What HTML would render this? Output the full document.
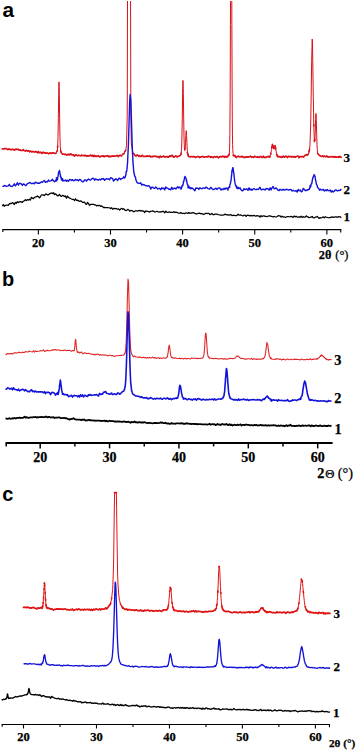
<!DOCTYPE html>
<html><head><meta charset="utf-8"><style>
html,body{margin:0;padding:0;background:#fff;}
body{width:358px;height:751px;overflow:hidden;}
svg{display:block;}
.tb{font-family:"Liberation Serif",serif;font-weight:bold;fill:#000;stroke:#000;stroke-width:0.25px;}
.tr{font-weight:normal;}
.ps{font-family:"Liberation Sans",sans-serif;font-weight:bold;fill:#000;}
</style></head><body>
<svg width="358" height="751" viewBox="0 0 358 751">
<defs>
<clipPath id="clipA"><rect x="0" y="0.9" width="358" height="240"/></clipPath>
<clipPath id="clipC"><rect x="0" y="492" width="358" height="240"/></clipPath>
</defs>
<polyline points="2.30,148.74 3.10,148.91 3.90,148.70 4.70,148.48 5.51,148.73 6.31,148.55 7.11,149.09 7.91,149.74 8.71,148.99 9.51,149.01 10.31,149.59 11.12,149.61 11.92,149.57 12.72,149.18 13.52,149.67 14.32,150.07 15.12,149.23 15.92,149.71 16.73,149.14 17.53,149.50 18.33,149.33 19.13,150.13 19.93,149.75 20.73,150.53 21.53,150.56 22.33,150.48 23.14,149.52 23.94,150.49 24.74,150.80 25.54,150.95 26.34,150.29 27.14,150.85 27.94,150.71 28.75,150.87 29.55,151.79 30.35,151.03 31.15,151.46 31.95,151.96 32.75,151.38 33.55,151.68 34.36,151.86 35.16,151.92 35.96,151.42 36.76,152.09 37.56,152.75 38.36,151.52 39.16,152.69 39.97,152.43 40.77,152.17 41.57,153.44 42.37,152.96 43.17,152.15 43.97,152.80 44.77,153.10 45.58,152.82 46.38,153.28 47.18,153.01 47.98,153.40 48.78,153.81 49.58,152.91 50.38,153.35 51.18,153.10 51.99,153.39 52.79,152.81 53.59,153.07 54.39,153.18 55.19,153.53 55.99,153.33 56.79,151.48 57.04,151.26 57.37,150.56 57.60,147.14 57.69,146.30 58.02,136.72 58.34,118.60 58.40,114.33 58.67,94.27 58.99,81.93 59.20,87.49 59.31,95.15 59.64,117.96 59.96,136.80 60.00,138.62 60.29,146.70 60.61,150.53 60.80,151.11 60.94,152.07 61.60,152.92 62.40,154.19 63.21,154.25 64.01,154.14 64.81,154.59 65.61,154.25 66.41,154.98 67.21,154.59 68.01,154.94 68.82,154.17 69.62,154.98 70.42,154.14 71.22,154.04 72.02,154.88 72.82,154.67 73.62,155.21 74.42,156.20 75.23,154.87 76.03,155.01 76.83,155.43 77.63,155.60 78.43,155.34 79.23,155.37 80.03,155.82 80.84,155.78 81.64,155.11 82.44,155.58 83.24,155.67 84.04,155.22 84.84,155.84 85.64,155.38 86.45,156.24 87.25,155.92 88.05,155.91 88.85,155.64 89.65,155.89 90.45,155.08 91.25,155.50 92.06,156.21 92.86,155.12 93.66,156.48 94.46,155.34 95.26,156.49 96.06,155.79 96.86,156.54 97.67,156.27 98.47,155.54 99.27,156.80 100.07,156.90 100.87,156.23 101.67,156.15 102.47,156.20 103.28,155.84 104.08,156.78 104.88,156.04 105.68,156.27 106.48,155.93 107.28,156.01 108.08,155.71 108.88,156.85 109.69,156.21 110.49,156.71 111.29,156.27 112.09,155.94 112.89,156.09 113.69,155.97 114.49,156.20 115.30,155.99 116.10,155.99 116.90,155.45 117.70,155.64 118.50,156.67 119.30,155.51 120.10,155.20 120.91,155.64 121.71,155.88 122.51,154.24 123.31,154.29 124.11,153.32 124.91,151.53 125.71,150.37 126.52,145.25 127.19,116.61 127.32,88.87 127.50,-3.23 127.52,-25.27 127.77,-430.68 127.80,-511.36 128.02,-1459.16 128.11,-2012.97 128.12,-2084.94 128.27,-3445.98 128.41,-4962.21 128.52,-6272.22 128.72,-8468.18 128.77,-8982.14 128.92,-9927.24 129.02,-10139.40 129.27,-8982.41 129.33,-8467.42 129.52,-6271.71 129.63,-4962.02 129.72,-3989.31 129.77,-3446.72 129.94,-2013.14 130.02,-1458.16 130.24,-510.91 130.27,-430.35 130.52,-25.41 130.52,-24.62 130.55,-2.99 130.85,116.41 131.32,143.50 132.13,148.64 132.93,152.31 133.73,153.62 134.53,154.68 135.33,155.71 136.13,155.93 136.93,155.03 137.73,155.00 138.54,156.28 139.34,155.59 140.14,156.14 140.94,156.61 141.74,155.56 142.54,155.40 143.34,156.52 144.15,156.46 144.95,156.37 145.75,156.53 146.55,156.15 147.35,155.88 148.15,156.51 148.95,156.16 149.76,155.88 150.56,156.86 151.36,156.62 152.16,156.84 152.96,156.22 153.76,156.38 154.56,156.23 155.37,156.29 156.17,156.79 156.97,156.35 157.77,156.87 158.57,156.87 159.37,157.63 160.17,156.10 160.98,157.13 161.78,156.69 162.58,156.73 163.38,156.09 164.18,156.53 164.98,157.08 165.78,156.71 166.58,156.78 167.39,156.61 168.19,157.26 168.99,156.73 169.79,155.74 170.59,156.41 171.39,155.83 172.19,155.24 173.00,156.45 173.80,157.27 174.60,156.66 175.40,156.07 176.20,156.12 177.00,156.98 177.80,156.43 178.61,156.20 179.41,155.85 180.21,155.31 180.81,154.70 181.01,153.94 181.17,152.96 181.53,148.33 181.81,141.75 181.89,138.15 182.25,119.12 182.61,93.03 182.97,80.45 183.33,93.45 183.41,98.14 183.69,119.07 184.06,138.54 184.22,143.16 184.42,148.07 184.78,150.60 185.02,148.43 185.14,148.62 185.50,142.61 185.82,135.67 185.86,134.33 186.22,130.68 186.58,135.20 186.62,136.69 186.94,143.80 187.30,150.27 187.42,152.45 187.66,153.51 188.02,154.99 188.22,154.70 188.38,156.41 189.02,156.54 189.83,156.76 190.63,156.80 191.43,156.64 192.23,156.75 193.03,156.58 193.83,156.64 194.63,156.78 195.43,157.46 196.24,157.05 197.04,156.79 197.84,156.57 198.64,156.55 199.44,157.57 200.24,157.08 201.04,156.89 201.85,156.71 202.65,156.38 203.45,156.85 204.25,157.28 205.05,156.71 205.85,156.79 206.65,156.80 207.46,156.95 208.26,156.18 209.06,156.80 209.86,156.52 210.66,157.31 211.46,156.56 212.26,157.17 213.07,157.60 213.87,156.77 214.67,156.64 215.47,156.99 216.27,156.90 217.07,156.45 217.87,157.10 218.68,157.79 219.48,156.76 220.28,156.78 221.08,156.38 221.88,156.98 222.68,156.25 223.48,156.28 224.28,157.30 225.09,156.25 225.89,157.05 226.69,157.10 226.83,156.50 227.49,156.43 227.55,157.04 228.27,155.70 228.29,155.51 228.99,154.40 229.09,154.75 229.21,154.94 229.53,150.83 229.71,143.78 229.85,134.54 229.89,131.16 230.18,89.93 230.43,24.61 230.50,2.10 230.70,-61.17 230.83,-101.12 231.15,-149.02 231.48,-100.89 231.50,-95.48 231.80,2.23 231.87,25.55 232.13,90.07 232.30,118.76 232.45,134.17 232.60,144.39 232.78,149.53 233.10,153.65 233.32,155.40 233.90,156.02 234.04,155.73 234.70,155.38 234.76,156.01 235.48,156.10 235.50,156.69 236.31,157.58 237.11,156.77 237.91,156.39 238.71,156.27 239.51,156.81 240.31,156.78 241.11,156.37 241.92,156.96 242.72,156.40 243.52,157.43 244.32,157.42 245.12,157.44 245.92,156.74 246.72,157.20 247.53,156.91 248.33,156.80 249.13,156.83 249.93,156.40 250.73,156.34 251.53,157.35 252.33,156.90 253.13,157.09 253.94,157.44 254.74,156.22 255.54,156.64 256.34,157.08 257.14,157.17 257.94,156.83 258.74,157.46 259.55,157.09 260.35,156.45 261.15,156.57 261.95,157.35 262.75,157.19 263.55,156.12 264.35,157.57 265.16,157.22 265.96,157.54 266.76,156.74 267.56,156.74 268.36,156.31 269.16,157.85 269.70,156.42 269.96,156.99 270.24,155.56 270.77,154.32 270.79,153.40 271.33,150.70 271.57,149.48 271.83,146.50 271.87,147.29 272.37,144.80 272.37,144.18 272.41,144.39 272.91,145.66 272.95,146.02 273.17,146.89 273.45,147.99 273.49,148.34 273.97,148.44 273.99,148.28 274.03,148.78 274.54,147.54 274.57,146.32 274.77,146.38 275.08,145.76 275.11,145.65 275.57,148.15 275.62,147.79 275.65,148.92 276.16,151.25 276.38,153.09 276.70,154.38 277.18,155.52 277.24,156.24 277.78,156.47 277.98,156.91 278.32,156.71 278.78,156.31 279.58,156.82 280.38,156.93 281.18,157.36 281.98,156.54 282.79,156.94 283.59,156.19 284.39,157.27 285.19,156.49 285.99,156.17 286.79,156.95 287.59,157.48 288.40,156.29 289.20,156.48 290.00,156.63 290.80,156.45 291.60,157.13 292.40,156.58 293.20,156.61 294.01,157.19 294.81,156.57 295.61,157.09 296.41,156.44 297.21,156.31 298.01,156.00 298.81,157.63 299.62,156.61 300.42,156.81 301.22,156.63 302.02,156.64 302.82,156.50 303.62,157.22 304.42,155.73 305.23,155.28 306.03,155.23 306.83,154.65 307.63,154.92 308.43,153.86 308.98,151.76 309.23,150.60 309.52,149.45 310.03,144.27 310.06,141.95 310.60,128.01 310.83,116.22 311.14,98.85 311.64,62.80 311.68,60.21 312.22,39.04 312.44,42.94 312.76,60.72 313.24,93.89 313.30,97.65 313.81,124.84 313.84,125.83 314.04,133.19 314.17,136.64 314.38,140.33 314.53,141.53 314.84,140.04 314.89,139.90 314.93,139.37 315.25,132.13 315.47,125.18 315.61,119.54 315.64,118.30 315.97,113.51 316.33,120.70 316.44,124.76 316.69,134.54 317.05,144.87 317.25,149.22 317.41,151.01 317.77,153.53 318.05,154.13 318.14,154.06 318.85,154.81 319.65,155.64 320.45,155.81 321.25,156.38 322.05,156.43 322.86,155.94 323.66,156.68 324.46,156.11 325.26,156.50 326.06,156.69 326.86,155.93 327.66,156.94 328.47,156.99 329.27,156.88 330.07,156.78 330.87,156.82 331.67,156.57 332.47,156.90 333.27,156.79 334.08,157.09 334.88,156.52 335.68,157.18 336.48,157.14 337.28,157.02 338.08,156.90 338.88,157.35 339.68,156.36 340.49,157.32 341.29,157.23" fill="none" stroke="#d81018" stroke-width="1.0" stroke-linejoin="round" clip-path="url(#clipA)"/>
<path d="M2.30,148.74 L3.10,148.91 L3.90,148.70 L4.70,148.48 L5.51,148.73 L6.31,148.55 L7.11,149.09 L7.91,149.74 L8.71,148.99 L9.51,149.01 L10.31,149.59 L11.12,149.61 L11.92,149.57 L12.72,149.18 L13.52,149.67 L14.32,150.07 L15.12,149.23 L15.92,149.71 L16.73,149.14 L17.53,149.50 L18.33,149.33 L19.13,150.13 L19.93,149.75 L20.73,150.53 L21.53,150.56 L22.33,150.48 L23.14,149.52 L23.94,150.49 L24.74,150.80 L25.54,150.95 L26.34,150.29 L27.14,150.85 L27.94,150.71 L28.75,150.87 L29.55,151.79 L30.35,151.03 L31.15,151.46 L31.95,151.96 L32.75,151.38 L33.55,151.68 L34.36,151.86 L35.16,151.92 L35.96,151.42 L36.76,152.09 L37.56,152.75 M38.36,151.52 L39.16,152.69 L39.97,152.43 L40.77,152.17 M41.57,153.44 L42.37,152.96 L43.17,152.15 L43.97,152.80 L44.77,153.10 L45.58,152.82 L46.38,153.28 L47.18,153.01 L47.98,153.40 L48.78,153.81 L49.58,152.91 L50.38,153.35 L51.18,153.10 L51.99,153.39 L52.79,152.81 L53.59,153.07 L54.39,153.18 L55.19,153.53 L55.99,153.33 M56.79,151.48 L57.04,151.26 L57.37,150.56 M57.60,147.14 L57.69,146.30 M60.61,150.53 L60.80,151.11 L60.94,152.07 L61.60,152.92 M62.40,154.19 L63.21,154.25 L64.01,154.14 L64.81,154.59 L65.61,154.25 L66.41,154.98 L67.21,154.59 L68.01,154.94 L68.82,154.17 L69.62,154.98 L70.42,154.14 L71.22,154.04 L72.02,154.88 L72.82,154.67 L73.62,155.21 L74.42,156.20 M75.23,154.87 L76.03,155.01 L76.83,155.43 L77.63,155.60 L78.43,155.34 L79.23,155.37 L80.03,155.82 L80.84,155.78 L81.64,155.11 L82.44,155.58 L83.24,155.67 L84.04,155.22 L84.84,155.84 L85.64,155.38 L86.45,156.24 L87.25,155.92 L88.05,155.91 L88.85,155.64 L89.65,155.89 L90.45,155.08 L91.25,155.50 L92.06,156.21 L92.86,155.12 M93.66,156.48 L94.46,155.34 L95.26,156.49 L96.06,155.79 L96.86,156.54 L97.67,156.27 L98.47,155.54 M99.27,156.80 L100.07,156.90 L100.87,156.23 L101.67,156.15 L102.47,156.20 L103.28,155.84 L104.08,156.78 L104.88,156.04 L105.68,156.27 L106.48,155.93 L107.28,156.01 L108.08,155.71 L108.88,156.85 L109.69,156.21 L110.49,156.71 L111.29,156.27 L112.09,155.94 L112.89,156.09 L113.69,155.97 L114.49,156.20 L115.30,155.99 L116.10,155.99 L116.90,155.45 L117.70,155.64 L118.50,156.67 L119.30,155.51 L120.10,155.20 L120.91,155.64 L121.71,155.88 M122.51,154.24 L123.31,154.29 L124.11,153.32 M124.91,151.53 L125.71,150.37 M130.52,-25.41 L130.52,-24.62 M133.73,153.62 L134.53,154.68 L135.33,155.71 L136.13,155.93 L136.93,155.03 L137.73,155.00 M138.54,156.28 L139.34,155.59 L140.14,156.14 L140.94,156.61 L141.74,155.56 L142.54,155.40 L143.34,156.52 L144.15,156.46 L144.95,156.37 L145.75,156.53 L146.55,156.15 L147.35,155.88 L148.15,156.51 L148.95,156.16 L149.76,155.88 L150.56,156.86 L151.36,156.62 L152.16,156.84 L152.96,156.22 L153.76,156.38 L154.56,156.23 L155.37,156.29 L156.17,156.79 L156.97,156.35 L157.77,156.87 L158.57,156.87 L159.37,157.63 M160.17,156.10 L160.98,157.13 L161.78,156.69 L162.58,156.73 L163.38,156.09 L164.18,156.53 L164.98,157.08 L165.78,156.71 L166.58,156.78 L167.39,156.61 L168.19,157.26 L168.99,156.73 L169.79,155.74 L170.59,156.41 L171.39,155.83 L172.19,155.24 L173.00,156.45 L173.80,157.27 L174.60,156.66 L175.40,156.07 L176.20,156.12 L177.00,156.98 L177.80,156.43 L178.61,156.20 L179.41,155.85 L180.21,155.31 L180.81,154.70 L181.01,153.94 L181.17,152.96 M185.02,148.43 L185.14,148.62 M187.42,152.45 L187.66,153.51 M188.02,154.99 L188.22,154.70 M188.38,156.41 L189.02,156.54 L189.83,156.76 L190.63,156.80 L191.43,156.64 L192.23,156.75 L193.03,156.58 L193.83,156.64 L194.63,156.78 L195.43,157.46 L196.24,157.05 L197.04,156.79 L197.84,156.57 L198.64,156.55 L199.44,157.57 L200.24,157.08 L201.04,156.89 L201.85,156.71 L202.65,156.38 L203.45,156.85 L204.25,157.28 L205.05,156.71 L205.85,156.79 L206.65,156.80 L207.46,156.95 L208.26,156.18 L209.06,156.80 L209.86,156.52 L210.66,157.31 L211.46,156.56 L212.26,157.17 L213.07,157.60 L213.87,156.77 L214.67,156.64 L215.47,156.99 L216.27,156.90 L217.07,156.45 L217.87,157.10 L218.68,157.79 L219.48,156.76 L220.28,156.78 L221.08,156.38 L221.88,156.98 L222.68,156.25 L223.48,156.28 L224.28,157.30 L225.09,156.25 L225.89,157.05 L226.69,157.10 L226.83,156.50 L227.49,156.43 L227.55,157.04 M228.27,155.70 L228.29,155.51 L228.99,154.40 L229.09,154.75 L229.21,154.94 M233.32,155.40 L233.90,156.02 L234.04,155.73 L234.70,155.38 L234.76,156.01 L235.48,156.10 L235.50,156.69 L236.31,157.58 L237.11,156.77 L237.91,156.39 L238.71,156.27 L239.51,156.81 L240.31,156.78 L241.11,156.37 L241.92,156.96 L242.72,156.40 L243.52,157.43 L244.32,157.42 L245.12,157.44 L245.92,156.74 L246.72,157.20 L247.53,156.91 L248.33,156.80 L249.13,156.83 L249.93,156.40 L250.73,156.34 L251.53,157.35 L252.33,156.90 L253.13,157.09 L253.94,157.44 M254.74,156.22 L255.54,156.64 L256.34,157.08 L257.14,157.17 L257.94,156.83 L258.74,157.46 L259.55,157.09 L260.35,156.45 L261.15,156.57 L261.95,157.35 L262.75,157.19 L263.55,156.12 M264.35,157.57 L265.16,157.22 L265.96,157.54 L266.76,156.74 L267.56,156.74 L268.36,156.31 M269.70,156.42 L269.96,156.99 M270.77,154.32 L270.79,153.40 M271.83,146.50 L271.87,147.29 M272.37,144.80 L272.37,144.18 L272.41,144.39 M272.91,145.66 L272.95,146.02 L273.17,146.89 L273.45,147.99 L273.49,148.34 L273.97,148.44 L273.99,148.28 L274.03,148.78 M274.57,146.32 L274.77,146.38 L275.08,145.76 L275.11,145.65 M275.57,148.15 L275.62,147.79 L275.65,148.92 M276.70,154.38 L277.18,155.52 L277.24,156.24 L277.78,156.47 L277.98,156.91 L278.32,156.71 L278.78,156.31 L279.58,156.82 L280.38,156.93 L281.18,157.36 L281.98,156.54 L282.79,156.94 L283.59,156.19 L284.39,157.27 L285.19,156.49 L285.99,156.17 L286.79,156.95 L287.59,157.48 L288.40,156.29 L289.20,156.48 L290.00,156.63 L290.80,156.45 L291.60,157.13 L292.40,156.58 L293.20,156.61 L294.01,157.19 L294.81,156.57 L295.61,157.09 L296.41,156.44 L297.21,156.31 L298.01,156.00 M298.81,157.63 L299.62,156.61 L300.42,156.81 L301.22,156.63 L302.02,156.64 L302.82,156.50 L303.62,157.22 M304.42,155.73 L305.23,155.28 L306.03,155.23 L306.83,154.65 L307.63,154.92 L308.43,153.86 M308.98,151.76 L309.23,150.60 L309.52,149.45 M313.81,124.84 L313.84,125.83 M314.38,140.33 L314.53,141.53 M314.84,140.04 L314.89,139.90 L314.93,139.37 M317.77,153.53 L318.05,154.13 L318.14,154.06 L318.85,154.81 L319.65,155.64 L320.45,155.81 L321.25,156.38 L322.05,156.43 L322.86,155.94 L323.66,156.68 L324.46,156.11 L325.26,156.50 L326.06,156.69 L326.86,155.93 L327.66,156.94 L328.47,156.99 L329.27,156.88 L330.07,156.78 L330.87,156.82 L331.67,156.57 L332.47,156.90 L333.27,156.79 L334.08,157.09 L334.88,156.52 L335.68,157.18 L336.48,157.14 L337.28,157.02 L338.08,156.90 L338.88,157.35 L339.68,156.36 L340.49,157.32 L341.29,157.23" fill="none" stroke="#d81018" stroke-width="1.6" stroke-linejoin="round" stroke-linecap="round" clip-path="url(#clipA)"/>
<polyline points="2.30,186.36 3.30,186.40 4.31,185.46 5.31,185.74 6.31,186.43 7.31,186.18 8.32,185.91 9.32,184.37 10.32,186.02 11.33,186.46 12.33,186.23 13.33,185.47 14.34,183.85 15.34,185.88 16.34,184.85 17.34,182.72 18.35,185.08 19.35,183.38 20.35,183.44 21.36,183.89 22.36,185.40 23.36,183.88 24.36,184.31 25.37,185.45 26.37,185.20 27.37,183.64 28.38,183.41 29.38,182.43 30.38,182.80 31.38,183.64 32.39,183.50 33.39,183.15 34.39,183.79 35.40,182.18 36.40,182.68 37.40,183.24 38.41,183.01 39.41,183.32 40.41,182.64 41.41,181.94 42.42,182.41 43.42,181.16 44.42,180.52 45.43,182.31 46.43,181.68 47.43,181.90 48.43,180.10 49.44,181.15 50.44,180.86 51.44,180.54 52.45,179.27 53.45,180.79 54.45,181.70 55.45,181.05 55.67,180.12 56.09,180.43 56.25,180.96 56.46,177.81 56.66,179.83 56.83,180.18 57.24,179.52 57.40,179.94 57.46,179.27 57.82,177.18 57.98,176.37 58.40,174.42 58.46,172.87 58.56,172.72 58.97,171.51 59.13,172.00 59.47,170.36 59.55,170.68 59.71,171.53 60.13,174.78 60.29,174.55 60.47,176.82 60.70,175.90 60.87,177.23 61.28,178.51 61.44,179.69 61.47,179.96 61.86,178.33 62.02,178.97 62.43,180.28 62.48,179.44 62.60,178.74 63.01,181.02 63.48,180.63 64.48,180.73 65.48,179.96 66.49,181.25 67.49,180.17 68.49,181.30 69.50,179.57 70.50,179.59 71.50,180.46 72.50,179.66 73.51,180.80 74.51,180.41 75.51,179.37 76.52,180.18 77.52,179.79 78.52,180.84 79.52,179.49 80.53,179.62 81.53,181.00 82.53,181.84 83.54,181.61 84.54,179.94 85.54,180.05 86.55,181.14 87.55,179.71 88.55,178.96 89.55,179.87 90.56,180.13 91.56,179.02 92.56,178.30 93.57,178.46 94.57,180.22 95.57,178.99 96.57,179.49 97.58,179.76 98.58,180.08 99.58,179.24 100.59,179.92 101.59,178.71 102.59,179.13 103.60,178.54 104.60,180.34 105.60,179.32 106.60,178.67 107.61,178.96 108.61,179.03 109.61,179.77 110.62,177.76 111.62,178.19 112.62,178.71 113.62,181.14 114.63,179.76 115.63,178.80 116.63,179.45 117.64,180.53 118.64,178.50 119.64,178.27 120.64,179.44 121.65,178.58 122.65,178.36 123.65,176.80 124.66,177.96 125.35,176.82 125.66,175.26 125.95,174.66 126.14,171.78 126.66,171.65 126.74,170.50 126.93,169.68 127.53,163.29 127.67,160.42 127.73,158.30 128.33,146.79 128.52,140.41 128.67,136.15 129.12,120.38 129.31,113.85 129.67,100.68 129.91,97.97 130.11,94.48 130.67,98.39 130.71,99.83 130.90,102.88 131.50,121.22 131.68,128.22 131.69,128.55 132.29,147.68 132.49,152.99 132.68,155.49 133.09,164.47 133.28,165.46 133.68,170.99 133.88,172.17 134.07,173.26 134.67,176.01 134.69,175.84 134.87,176.49 135.47,177.02 135.69,179.02 136.69,181.98 137.69,183.08 138.70,183.29 139.70,183.40 140.70,182.80 141.71,185.12 142.71,184.32 143.71,184.78 144.71,185.02 145.72,185.73 146.72,185.64 147.72,186.26 148.73,185.69 149.73,186.55 150.73,189.04 151.74,187.25 152.74,187.29 153.74,188.12 154.74,188.42 155.75,187.01 156.75,187.90 157.75,188.95 158.76,188.48 159.76,188.42 160.76,189.69 161.76,187.85 162.77,188.54 163.77,188.07 164.77,189.81 165.78,186.92 166.78,188.03 167.78,188.18 168.78,189.21 169.79,189.17 170.79,189.84 171.79,187.32 172.80,189.28 173.80,188.38 174.80,188.05 175.81,189.05 176.81,187.77 177.81,186.73 178.81,188.09 179.82,186.99 180.23,187.62 180.82,188.31 180.99,188.18 181.03,189.25 181.78,187.17 181.82,185.99 181.82,186.65 182.57,185.22 182.61,184.87 182.83,185.69 183.37,182.80 183.41,181.49 183.83,181.75 184.16,179.37 184.20,179.56 184.83,176.75 184.95,176.93 184.99,176.35 185.75,178.19 185.79,177.65 185.83,177.80 186.54,181.14 186.58,179.76 186.84,182.12 187.33,184.13 187.37,184.67 187.84,184.76 188.13,187.93 188.17,186.71 188.84,186.50 188.92,186.15 188.96,187.40 189.71,187.99 189.75,187.47 189.85,188.19 190.51,187.75 190.85,188.83 191.85,187.88 192.86,188.55 193.86,189.48 194.86,190.87 195.86,187.87 196.87,188.35 197.87,188.06 198.87,189.45 199.88,187.83 200.88,188.40 201.88,188.80 202.88,188.00 203.89,188.03 204.89,188.44 205.89,187.07 206.90,187.63 207.90,188.51 208.90,188.99 209.90,188.71 210.91,187.36 211.91,188.48 212.91,189.55 213.92,189.34 214.92,188.80 215.92,188.11 216.93,189.40 217.93,188.36 218.93,187.85 219.93,188.14 220.94,190.04 221.94,188.96 222.94,189.72 223.95,188.28 224.95,189.41 225.95,187.98 226.95,188.19 227.96,190.14 228.20,188.58 228.92,187.02 228.96,187.34 229.09,187.56 229.64,187.44 229.81,185.59 229.96,184.08 230.36,183.79 230.53,183.18 230.97,180.38 231.08,180.50 231.25,178.21 231.80,173.37 231.97,170.19 231.97,171.86 232.52,169.31 232.69,167.83 232.97,167.68 233.24,168.80 233.41,171.30 233.97,173.77 233.97,174.55 234.13,176.51 234.69,181.36 234.86,181.50 234.98,182.89 235.41,184.49 235.58,185.44 235.98,186.32 236.13,185.75 236.30,186.98 236.85,188.36 236.98,186.89 237.02,187.54 237.74,188.68 237.99,187.29 238.99,188.61 239.99,187.71 241.00,189.68 242.00,190.75 243.00,190.56 244.00,188.70 245.01,189.55 246.01,189.05 247.01,189.05 248.02,190.30 249.02,187.88 250.02,189.91 251.02,188.99 252.03,190.24 253.03,189.21 254.03,188.49 255.04,189.30 256.04,189.70 257.04,189.11 258.05,189.50 259.05,188.65 260.05,187.28 261.05,189.86 262.06,189.70 263.06,189.23 264.06,189.17 265.07,190.00 266.07,188.74 267.07,188.53 268.07,188.97 269.08,190.13 270.08,187.89 271.08,189.88 272.09,187.73 273.09,186.52 274.09,188.70 275.09,188.45 276.10,188.00 277.10,189.03 278.10,190.22 279.11,190.51 280.11,189.19 281.11,189.95 282.12,190.26 283.12,189.15 284.12,190.05 285.12,189.76 286.13,189.37 287.13,189.45 288.13,189.96 289.14,189.97 290.14,189.50 291.14,189.66 292.14,191.00 293.15,190.26 294.15,190.86 295.15,191.15 296.16,190.64 297.16,192.09 298.16,189.46 299.16,190.85 300.17,189.89 301.17,191.72 302.17,191.56 303.18,188.42 304.18,189.20 305.18,190.50 306.19,190.49 307.10,190.29 307.19,189.58 308.19,189.72 308.25,189.86 309.19,188.62 309.41,189.35 310.20,185.41 310.56,187.10 311.20,183.91 311.72,183.77 312.20,180.77 312.87,177.40 313.21,177.24 314.02,174.69 314.21,174.77 315.18,176.83 315.21,178.27 316.21,182.93 316.33,183.85 317.22,185.79 317.49,187.49 318.22,188.00 318.64,188.44 319.22,189.52 319.79,190.26 320.23,189.24 320.95,189.53 321.23,189.66 322.23,190.03 323.23,189.30 324.24,191.02 325.24,189.87 326.24,190.66 327.25,189.60 328.25,190.64 329.25,190.70 330.26,190.04 331.26,192.13 332.26,190.75 333.26,191.96 334.27,191.28 335.27,189.91 336.27,190.16 337.28,190.87 338.28,190.56 339.28,190.56 340.28,190.28 341.29,188.99" fill="none" stroke="#1414d8" stroke-width="1.4" stroke-linejoin="round" clip-path="url(#clipA)"/>
<polyline points="2.30,206.15 3.30,204.61 4.31,206.26 5.31,205.31 6.31,205.12 7.31,205.24 8.32,205.34 9.32,203.90 10.32,203.40 11.33,203.59 12.33,202.63 13.33,203.09 14.34,204.56 15.34,202.46 16.34,203.34 17.34,201.67 18.35,202.53 19.35,201.83 20.35,201.72 21.36,201.88 22.36,202.41 23.36,201.07 24.36,200.75 25.37,199.73 26.37,200.50 27.37,199.66 28.38,200.11 29.38,199.22 30.38,200.13 31.38,197.33 32.39,198.16 33.39,198.65 34.39,197.52 35.40,196.92 36.40,196.97 37.40,195.93 38.41,196.63 39.41,197.88 40.41,196.73 41.41,194.95 42.42,194.85 43.42,194.91 44.42,195.61 45.43,194.19 46.43,194.08 47.43,194.94 48.43,194.79 49.44,193.87 50.44,193.31 51.44,192.99 52.45,193.55 53.45,192.59 54.45,194.61 55.45,193.83 56.46,194.71 57.46,195.79 58.46,195.55 59.47,194.30 60.47,195.88 61.47,196.37 62.48,195.48 63.48,195.68 64.48,196.56 65.48,195.94 66.49,198.25 67.49,196.10 68.49,197.26 69.50,198.12 70.50,198.46 71.50,199.02 72.50,199.39 73.51,199.38 74.51,200.52 75.51,198.73 76.52,200.35 77.52,200.17 78.52,200.96 79.52,201.28 80.53,200.83 81.53,201.27 82.53,202.43 83.54,202.42 84.54,202.04 85.54,203.99 86.55,204.42 87.55,202.33 88.55,203.69 89.55,205.31 90.56,204.49 91.56,204.39 92.56,204.37 93.57,204.41 94.57,204.85 95.57,204.88 96.57,205.90 97.58,205.42 98.58,205.61 99.58,205.36 100.59,206.28 101.59,205.97 102.59,206.61 103.60,207.55 104.60,207.33 105.60,207.60 106.60,207.69 107.61,207.69 108.61,207.75 109.61,207.81 110.62,208.62 111.62,207.68 112.62,209.29 113.62,208.67 114.63,208.36 115.63,208.65 116.63,208.67 117.64,209.29 118.64,208.89 119.64,210.09 120.64,209.08 121.65,208.32 122.65,209.31 123.65,208.67 124.66,209.88 125.66,210.59 126.66,210.42 127.67,209.37 128.67,209.77 129.67,211.26 130.67,210.51 131.68,210.40 132.68,211.05 133.68,211.89 134.69,211.31 135.69,210.74 136.69,210.93 137.69,211.14 138.70,210.54 139.70,210.37 140.70,211.03 141.71,210.56 142.71,211.10 143.71,211.24 144.71,212.49 145.72,210.86 146.72,211.30 147.72,211.33 148.73,211.69 149.73,212.06 150.73,211.31 151.74,211.19 152.74,210.81 153.74,211.22 154.74,212.01 155.75,211.80 156.75,211.31 157.75,211.67 158.76,211.92 159.76,212.20 160.76,211.69 161.76,211.90 162.77,211.18 163.77,211.55 164.77,212.94 165.78,211.13 166.78,212.07 167.78,212.38 168.78,212.14 169.79,211.97 170.79,212.37 171.79,212.44 172.80,212.44 173.80,211.64 174.80,212.50 175.81,212.21 176.81,212.39 177.81,212.79 178.81,213.02 179.82,213.18 180.82,212.59 181.82,213.27 182.83,213.42 183.83,213.45 184.83,213.60 185.83,212.95 186.84,212.98 187.84,213.47 188.84,212.53 189.85,213.28 190.85,212.99 191.85,213.10 192.86,212.53 193.86,212.95 194.86,213.38 195.86,213.83 196.87,213.92 197.87,213.48 198.87,213.48 199.88,213.23 200.88,213.83 201.88,213.58 202.88,214.01 203.89,214.57 204.89,213.81 205.89,213.19 206.90,213.52 207.90,213.30 208.90,213.46 209.90,214.63 210.91,214.19 211.91,213.45 212.91,214.47 213.92,214.79 214.92,214.11 215.92,214.01 216.93,214.21 217.93,214.53 218.93,214.74 219.93,215.02 220.94,215.08 221.94,215.11 222.94,215.24 223.95,214.97 224.95,214.03 225.95,214.70 226.95,214.95 227.96,214.68 228.96,215.30 229.96,214.78 230.97,214.57 231.97,215.68 232.97,215.37 233.97,215.22 234.98,215.58 235.98,215.68 236.98,215.39 237.99,214.17 238.99,215.01 239.99,215.15 241.00,214.95 242.00,215.51 243.00,215.99 244.00,215.27 245.01,215.01 246.01,216.46 247.01,215.37 248.02,215.04 249.02,215.73 250.02,215.84 251.02,215.36 252.03,216.06 253.03,215.51 254.03,215.34 255.04,215.86 256.04,216.15 257.04,215.55 258.05,216.01 259.05,215.84 260.05,217.18 261.05,215.62 262.06,216.58 263.06,215.96 264.06,215.95 265.07,216.36 266.07,216.47 267.07,216.66 268.07,216.26 269.08,215.87 270.08,215.92 271.08,216.42 272.09,216.48 273.09,216.87 274.09,216.46 275.09,216.77 276.10,217.00 277.10,216.42 278.10,215.70 279.11,215.87 280.11,215.78 281.11,217.17 282.12,216.10 283.12,217.06 284.12,216.79 285.12,217.32 286.13,217.03 287.13,216.56 288.13,216.54 289.14,216.69 290.14,216.75 291.14,216.45 292.14,216.70 293.15,217.46 294.15,215.99 295.15,216.89 296.16,216.39 297.16,216.90 298.16,217.21 299.16,216.82 300.17,217.21 301.17,216.17 302.17,217.40 303.18,216.65 304.18,217.22 305.18,217.04 306.19,215.81 307.19,216.65 308.19,217.11 309.19,217.73 310.20,217.18 311.20,217.18 312.20,216.45 313.21,217.74 314.21,217.93 315.21,217.15 316.21,217.05 317.22,216.44 318.22,217.59 319.22,218.42 320.23,217.55 321.23,217.81 322.23,217.50 323.23,216.83 324.24,217.90 325.24,216.76 326.24,217.24 327.25,217.48 328.25,217.76 329.25,217.57 330.26,217.58 331.26,217.08 332.26,216.86 333.26,217.48 334.27,217.16 335.27,216.90 336.27,216.94 337.28,217.30 338.28,216.70 339.28,216.94 340.28,216.82 341.29,217.65" fill="none" stroke="#000000" stroke-width="1.25" stroke-linejoin="round" clip-path="url(#clipA)"/>
<polyline points="5.50,354.19 6.50,354.60 7.50,353.48 8.50,353.64 9.50,354.03 10.50,353.59 11.50,353.45 12.50,353.95 13.50,353.22 14.50,352.85 15.50,352.69 16.50,353.07 17.50,352.95 18.50,352.34 19.50,352.35 20.50,352.71 21.50,352.62 22.50,352.15 23.50,352.44 24.50,352.33 25.50,351.53 26.50,351.88 27.50,352.02 28.50,351.63 29.50,351.08 30.50,351.55 31.51,351.77 32.51,351.93 33.51,350.72 34.51,352.07 35.51,350.87 36.51,351.42 37.51,351.42 38.51,351.27 39.51,350.95 40.51,350.49 41.51,350.96 42.51,350.49 43.51,349.89 44.51,351.44 45.51,350.74 46.51,351.02 47.51,350.15 48.51,350.82 49.51,350.81 50.51,350.76 51.51,350.25 52.51,349.87 53.51,350.15 54.51,349.51 55.51,349.64 56.51,350.16 57.51,349.82 58.51,350.06 59.51,350.09 60.51,350.72 61.51,350.56 62.51,350.20 63.51,350.63 64.51,350.09 65.51,350.29 66.51,350.75 67.51,350.18 68.51,350.55 69.51,350.31 70.51,350.82 71.51,351.33 72.51,350.64 73.51,350.83 73.56,350.56 73.87,350.35 74.00,350.24 74.18,350.72 74.31,350.62 74.49,349.14 74.51,348.69 74.62,348.33 74.81,346.22 74.93,345.08 75.12,342.60 75.24,341.17 75.43,339.88 75.51,339.31 75.56,339.38 75.74,339.71 75.87,341.18 76.05,343.00 76.18,344.94 76.37,346.80 76.49,348.32 76.51,348.63 76.68,349.24 76.81,350.08 76.99,350.70 77.12,351.52 77.30,352.11 77.43,352.02 77.51,351.78 77.74,352.50 78.51,351.84 79.51,352.92 80.51,352.41 81.51,351.91 82.51,353.67 83.51,353.47 84.52,352.83 85.52,353.32 86.52,353.34 87.52,353.56 88.52,353.21 89.52,353.57 90.52,354.04 91.52,354.08 92.52,354.48 93.52,354.26 94.52,355.05 95.52,354.23 96.52,354.62 97.52,354.06 98.52,354.35 99.52,355.21 100.52,354.61 101.52,355.14 102.52,355.03 103.52,354.81 104.52,355.09 105.52,355.11 106.52,355.18 107.52,355.61 108.52,355.64 109.52,355.32 110.52,355.27 111.52,355.67 112.52,355.60 113.52,355.98 114.52,356.50 115.52,355.99 116.52,355.75 117.52,355.72 118.52,355.51 119.52,355.46 120.52,355.36 121.52,355.42 122.52,355.18 123.52,355.11 124.48,353.94 124.52,353.97 125.06,352.49 125.07,353.34 125.52,350.65 125.65,350.04 125.66,349.65 126.24,341.06 126.25,340.28 126.52,333.27 126.82,323.38 126.84,321.74 127.41,297.65 127.43,297.30 127.52,292.91 128.00,279.12 128.02,279.13 128.52,281.85 128.59,284.06 128.61,284.03 129.18,306.73 129.20,307.29 129.52,321.22 129.77,330.33 129.79,330.83 130.36,344.35 130.38,345.61 130.52,347.58 130.95,351.60 130.96,351.37 131.52,353.82 131.54,354.09 131.55,354.11 132.13,354.46 132.52,355.61 133.52,356.90 134.52,355.80 135.52,356.94 136.53,356.93 137.53,356.94 138.53,357.52 139.53,356.84 140.53,357.35 141.53,357.84 142.53,357.40 143.53,357.40 144.53,357.63 145.53,357.51 146.53,358.17 147.53,357.46 148.53,358.05 149.53,357.43 150.53,358.06 151.53,357.85 152.53,357.11 153.53,357.93 154.53,357.63 155.53,357.84 156.53,358.48 157.53,357.68 158.53,357.71 159.53,358.50 160.53,358.10 161.53,358.54 162.53,358.16 163.53,357.76 164.53,357.96 165.53,358.24 166.10,358.02 166.53,357.54 166.59,357.53 166.79,357.30 167.07,356.77 167.28,357.09 167.53,355.67 167.56,355.20 167.76,354.42 168.05,352.99 168.25,351.38 168.53,348.79 168.74,347.06 169.02,345.85 169.22,345.08 169.50,345.93 169.53,346.72 169.71,347.34 169.99,349.69 170.19,351.58 170.47,353.46 170.53,353.65 170.68,355.16 170.96,356.01 171.16,356.37 171.45,357.33 171.53,357.38 171.65,357.15 171.93,357.71 172.13,357.77 172.53,357.38 172.62,357.97 173.53,358.11 174.53,358.16 175.53,357.86 176.53,358.30 177.53,358.43 178.53,358.51 179.53,358.15 180.53,358.71 181.53,358.16 182.53,358.48 183.53,358.97 184.53,358.36 185.53,358.43 186.53,358.92 187.53,358.48 188.54,358.51 189.54,358.68 190.54,358.94 191.54,357.93 192.54,358.36 193.54,358.30 194.54,358.27 195.54,358.33 196.54,358.32 197.54,358.65 198.54,358.24 199.54,358.49 200.54,358.47 201.54,357.94 202.54,357.81 202.66,358.20 203.15,357.29 203.46,356.36 203.54,356.30 203.64,355.71 203.94,354.52 204.12,353.36 204.43,349.60 204.54,348.32 204.61,347.75 204.91,342.27 205.09,339.44 205.40,334.55 205.54,333.29 205.58,333.12 205.89,333.60 206.06,333.91 206.37,337.31 206.54,339.74 206.55,340.02 206.86,345.06 207.03,347.52 207.34,351.84 207.52,352.97 207.54,353.50 207.83,355.09 208.01,356.02 208.31,356.36 208.49,357.12 208.54,357.21 208.80,357.49 209.28,357.28 209.54,358.31 210.54,358.22 211.54,358.36 212.54,358.51 213.54,358.58 214.54,358.82 215.54,358.35 216.54,358.47 217.54,358.86 218.54,358.84 219.54,358.69 220.54,358.65 221.54,358.58 222.54,358.82 223.54,359.20 224.54,358.54 225.54,359.32 226.54,359.12 227.54,358.73 228.54,359.10 229.54,358.42 230.54,358.33 231.54,358.44 232.54,358.66 233.54,358.58 234.54,358.23 235.54,357.72 236.54,355.97 237.54,356.14 238.54,356.32 239.54,357.62 240.55,358.35 241.55,358.40 242.55,358.45 243.55,358.61 244.55,358.95 245.55,359.15 246.55,359.16 247.55,358.71 248.55,358.78 249.55,358.75 250.55,359.17 251.55,358.43 252.55,359.42 253.55,358.90 254.55,358.81 255.55,359.15 256.55,359.35 257.55,359.12 258.55,359.31 259.55,359.00 260.55,359.27 261.55,359.18 262.55,358.60 263.37,358.81 263.55,358.34 263.96,358.05 264.34,357.31 264.55,357.16 264.55,357.47 264.93,355.84 265.14,355.66 265.52,353.52 265.55,353.33 265.73,351.36 266.11,348.82 266.32,347.27 266.55,344.94 266.70,344.19 266.90,342.53 267.29,343.30 267.49,343.56 267.55,344.27 267.88,345.41 268.08,347.66 268.47,350.42 268.55,351.34 268.67,351.71 269.06,354.18 269.26,356.00 269.55,356.14 269.65,356.46 269.85,357.09 270.24,357.50 270.44,358.39 270.55,358.65 270.83,358.12 271.42,358.08 271.55,359.00 272.55,359.20 273.55,359.24 274.55,359.43 275.55,358.88 276.55,359.13 277.55,358.80 278.55,358.82 279.55,359.56 280.55,359.08 281.55,359.99 282.55,359.34 283.55,359.14 284.55,359.59 285.55,359.90 286.55,359.52 287.55,359.02 288.55,359.50 289.55,359.82 290.55,359.27 291.55,359.19 292.56,359.74 293.56,359.48 294.56,359.12 295.56,359.34 296.56,359.24 297.56,359.56 298.56,359.51 299.56,359.83 300.56,359.71 301.56,359.03 302.56,359.63 303.56,359.78 304.56,359.65 305.56,359.83 306.56,359.36 307.56,359.24 308.56,359.80 309.56,359.20 310.56,358.86 311.56,359.81 312.56,359.26 313.56,359.36 314.56,358.99 314.57,359.01 315.56,358.99 315.78,359.20 316.56,359.29 316.99,358.38 317.56,359.08 318.21,358.13 318.56,357.91 319.42,357.59 319.56,357.21 320.56,355.55 320.64,356.48 321.56,354.90 321.85,355.19 322.56,355.49 323.06,356.37 323.56,356.42 324.28,357.73 324.56,357.52 325.49,358.89 325.56,358.37 326.56,358.99 326.71,359.72 327.56,359.45 327.92,359.45 328.56,360.16 329.13,359.65 329.56,359.32 330.56,359.83 331.56,359.29" fill="none" stroke="#e02828" stroke-width="1.1" stroke-linejoin="round"/>
<polyline points="5.50,389.10 6.50,389.31 7.50,387.87 8.50,387.98 9.50,388.88 10.50,388.92 11.50,388.23 12.50,389.81 13.50,387.71 14.50,389.31 15.50,389.50 16.50,389.76 17.50,390.39 18.50,389.15 19.50,390.82 20.50,390.22 21.50,389.85 22.50,389.25 23.50,389.44 24.50,390.79 25.50,389.66 26.50,390.56 27.50,391.42 28.50,391.42 29.50,391.89 30.50,390.35 31.51,389.73 32.51,391.58 33.51,391.05 34.51,391.82 35.51,390.97 36.51,392.07 37.51,391.90 38.51,391.91 39.51,391.86 40.51,391.90 41.51,391.89 42.51,392.01 43.51,392.77 44.51,391.67 45.51,393.65 46.51,392.23 47.51,392.41 48.51,392.21 49.51,392.63 50.51,394.66 51.51,392.91 52.51,392.25 53.51,392.82 54.51,393.23 55.51,395.26 56.51,393.66 57.39,394.09 57.51,392.59 57.79,393.58 57.88,393.84 58.28,394.30 58.36,392.19 58.51,392.92 58.76,391.88 58.85,390.48 59.25,388.95 59.34,388.13 59.51,385.04 59.73,385.36 59.82,384.55 60.22,380.93 60.31,379.94 60.51,382.14 60.71,381.94 60.79,383.09 61.19,386.78 61.28,386.05 61.51,389.10 61.68,389.50 61.76,390.21 62.16,392.14 62.25,392.52 62.51,394.08 62.65,393.58 62.73,393.52 63.13,393.85 63.22,394.44 63.51,393.66 63.62,394.05 64.51,394.68 65.51,394.45 66.51,394.92 67.51,394.63 68.51,396.73 69.51,396.27 70.51,395.64 71.51,395.30 72.51,397.08 73.51,395.68 74.51,395.39 75.51,395.72 76.51,395.74 77.51,396.60 78.51,395.53 79.51,397.16 80.51,394.92 81.51,396.13 82.51,394.87 83.51,396.99 84.52,395.38 85.52,395.58 86.52,396.30 87.52,396.52 88.52,394.74 89.52,395.28 90.52,394.47 91.52,395.55 92.52,395.32 93.52,395.08 94.52,394.77 95.52,394.91 96.52,394.56 97.52,395.39 98.52,396.01 99.52,393.41 100.52,394.54 101.52,394.02 102.52,394.12 103.52,392.30 104.52,392.13 105.52,391.47 106.52,393.34 107.52,393.57 108.52,393.79 109.52,394.32 110.52,393.93 111.52,393.04 112.52,394.43 113.52,394.16 114.52,393.80 115.52,394.41 116.52,394.43 117.52,392.95 118.52,393.01 119.52,394.15 120.52,393.84 121.52,392.38 122.52,391.71 123.52,391.22 123.85,390.90 124.43,389.23 124.52,389.78 124.55,389.10 125.13,386.27 125.24,386.40 125.52,382.74 125.82,378.60 125.94,376.78 126.51,361.52 126.52,360.72 126.63,357.35 127.21,334.69 127.32,331.35 127.52,323.58 127.90,312.87 128.02,311.79 128.52,314.75 128.59,316.24 128.71,319.91 129.29,340.58 129.40,344.45 129.52,349.38 129.98,364.89 130.10,368.98 130.52,378.95 130.68,382.66 130.79,383.41 131.37,388.26 131.48,389.61 131.52,390.22 132.06,391.75 132.18,392.28 132.52,393.21 132.76,393.92 133.52,394.54 134.52,394.93 135.52,396.08 136.53,395.94 137.53,396.27 138.53,396.19 139.53,396.66 140.53,397.45 141.53,396.73 142.53,397.51 143.53,397.97 144.53,397.67 145.53,398.03 146.53,397.59 147.53,398.65 148.53,398.64 149.53,398.36 150.53,397.62 151.53,397.94 152.53,398.78 153.53,399.11 154.53,398.58 155.53,398.99 156.53,398.27 157.53,398.47 158.53,398.58 159.53,398.77 160.53,398.02 161.53,399.03 162.53,399.21 163.53,398.25 164.53,398.19 165.53,398.89 166.53,398.51 167.53,397.84 168.53,399.13 169.53,398.88 170.53,398.63 171.53,399.67 172.53,398.86 173.53,398.47 174.53,398.75 175.53,398.16 176.37,398.07 176.53,398.48 176.96,397.87 177.09,397.82 177.53,398.15 177.55,397.81 177.68,397.55 178.14,396.17 178.27,395.64 178.53,394.75 178.73,393.00 178.86,392.88 179.32,388.36 179.45,387.70 179.53,386.69 179.91,385.33 180.04,385.46 180.50,386.79 180.53,386.12 180.63,386.89 181.09,389.84 181.22,390.64 181.53,392.59 181.68,393.95 181.81,393.93 182.27,396.51 182.40,396.84 182.53,396.90 182.86,397.33 182.99,397.35 183.45,399.06 183.53,397.83 183.58,399.02 184.17,398.87 184.53,398.59 185.53,398.44 186.53,399.43 187.53,399.77 188.54,398.76 189.54,399.05 190.54,399.62 191.54,399.36 192.54,400.05 193.54,399.04 194.54,399.50 195.54,398.80 196.54,400.16 197.54,399.04 198.54,398.46 199.54,399.31 200.54,399.31 201.54,400.15 202.54,399.25 203.54,399.39 204.54,399.65 205.54,400.05 206.54,399.40 207.54,399.84 208.54,399.64 209.54,399.32 210.54,399.47 211.54,399.45 212.54,399.06 213.54,399.91 214.54,398.85 215.54,399.85 216.54,399.73 217.54,399.27 218.54,398.93 219.54,399.03 220.54,399.14 221.54,398.97 222.54,398.27 222.57,398.53 223.20,397.23 223.43,397.15 223.54,396.18 223.82,396.29 224.05,395.10 224.45,392.44 224.54,392.31 224.68,390.89 225.07,384.91 225.30,382.77 225.54,378.42 225.70,376.99 225.93,374.16 226.32,369.02 226.54,368.67 226.55,368.54 226.95,370.72 227.17,373.29 227.54,378.66 227.57,378.15 227.80,382.60 228.19,386.96 228.42,390.00 228.54,391.51 228.82,393.52 229.05,394.25 229.44,395.99 229.54,396.39 229.67,396.89 230.07,398.10 230.30,397.42 230.54,398.37 230.92,398.71 231.54,399.00 232.54,399.28 233.54,399.89 234.54,399.61 235.54,399.85 236.54,399.81 237.54,400.35 238.54,398.92 239.54,400.23 240.55,399.65 241.55,399.67 242.55,399.42 243.55,399.08 244.55,399.70 245.55,399.59 246.55,400.08 247.55,399.32 248.55,400.49 249.55,400.05 250.55,399.85 251.55,399.68 252.55,399.67 253.55,399.54 254.55,399.79 255.55,400.02 256.55,399.95 257.55,399.46 258.55,399.92 259.55,399.66 260.55,400.06 261.55,400.71 261.84,400.20 262.55,399.76 262.71,399.22 263.55,399.10 263.58,398.99 264.44,399.46 264.55,398.78 265.31,398.24 265.55,397.63 266.18,396.99 266.55,397.06 267.04,395.97 267.55,396.39 267.91,396.66 268.55,398.29 268.78,397.86 269.55,398.71 269.65,398.70 270.51,399.21 270.55,399.98 271.38,401.04 271.55,399.65 272.25,400.51 272.55,400.26 273.55,399.78 274.55,400.15 275.55,400.20 276.55,400.04 277.55,401.11 278.55,399.60 279.55,400.53 280.55,400.53 281.55,400.18 282.55,400.48 283.55,400.79 284.55,400.51 285.55,400.62 286.55,400.74 287.55,399.65 288.55,401.06 289.55,401.38 290.55,400.85 291.55,400.85 292.56,399.87 293.56,400.36 294.56,400.04 295.56,400.06 296.56,400.60 297.56,399.76 298.56,399.82 298.89,399.02 299.56,399.45 299.82,399.40 299.98,398.98 300.56,398.42 300.76,399.19 300.92,397.70 301.56,396.29 301.70,395.95 301.86,396.20 302.56,393.31 302.63,392.18 302.79,390.82 303.56,385.85 303.57,386.37 303.73,384.54 304.51,381.84 304.56,381.73 304.66,381.04 305.44,382.67 305.56,383.23 305.60,383.77 306.38,387.48 306.54,389.42 306.56,388.93 307.32,393.21 307.47,394.32 307.56,394.57 308.25,396.71 308.41,396.87 308.56,397.47 309.19,399.46 309.35,399.85 309.56,399.54 310.13,400.15 310.28,399.56 310.56,399.87 311.22,400.24 311.56,399.79 312.56,400.02 313.56,400.59 314.56,400.52 315.56,400.30 316.56,400.95 317.56,400.74 318.56,401.30 319.56,400.93 320.56,400.85 321.56,401.06 322.56,400.97 323.56,400.80 324.56,400.93 325.56,401.41 326.56,401.39 327.56,401.67 328.56,400.49 329.56,401.03 330.56,401.03 331.56,401.28" fill="none" stroke="#1414d8" stroke-width="1.6" stroke-linejoin="round"/>
<polyline points="5.50,418.55 6.50,418.50 7.50,418.85 8.50,418.63 9.50,418.18 10.50,418.88 11.50,418.72 12.50,418.20 13.50,418.56 14.50,418.03 15.50,418.53 16.50,418.07 17.50,417.84 18.50,417.91 19.50,417.74 20.50,417.98 21.50,417.92 22.50,417.83 23.50,417.61 24.50,416.63 25.50,417.71 26.50,417.07 27.50,417.67 28.50,417.90 29.50,417.60 30.50,417.36 31.50,417.39 32.51,417.36 33.51,417.19 34.51,417.14 35.51,417.00 36.51,417.60 37.51,417.19 38.51,417.45 39.51,417.04 40.51,417.10 41.51,416.99 42.51,417.14 43.51,417.21 44.51,417.01 45.51,416.73 46.51,416.70 47.51,417.44 48.51,416.88 49.51,416.91 50.51,417.48 51.51,417.42 52.51,417.32 53.51,417.11 54.51,418.02 55.51,417.53 56.51,417.68 57.51,417.57 58.51,417.31 59.51,417.44 60.51,418.07 61.51,418.17 62.51,418.09 63.51,417.91 64.51,417.92 65.51,418.35 66.51,418.10 67.51,418.90 68.51,419.06 69.51,419.65 70.51,419.16 71.51,418.80 72.51,418.81 73.51,418.12 74.51,419.06 75.51,419.27 76.51,419.69 77.51,419.66 78.51,419.72 79.51,419.68 80.51,419.89 81.51,420.19 82.51,419.50 83.51,419.75 84.52,419.53 85.52,420.49 86.52,420.44 87.52,420.33 88.52,419.80 89.52,420.26 90.52,420.19 91.52,420.34 92.52,420.31 93.52,420.58 94.52,420.36 95.52,420.78 96.52,420.65 97.52,420.54 98.52,420.65 99.52,420.60 100.52,421.03 101.52,420.76 102.52,420.98 103.52,420.83 104.52,420.55 105.52,421.32 106.52,420.78 107.52,421.35 108.52,421.32 109.52,420.74 110.52,421.00 111.52,421.17 112.52,421.12 113.52,421.06 114.52,421.67 115.52,421.42 116.52,421.64 117.52,421.44 118.52,421.69 119.52,421.41 120.52,421.67 121.52,421.89 122.52,421.76 123.52,421.65 124.52,421.50 125.52,421.91 126.52,422.00 127.52,421.86 128.52,421.74 129.52,422.17 130.52,422.79 131.52,421.99 132.52,422.22 133.52,422.27 134.52,421.42 135.52,422.26 136.53,422.05 137.53,422.71 138.53,422.26 139.53,422.14 140.53,422.34 141.53,422.50 142.53,422.31 143.53,422.50 144.53,422.15 145.53,422.52 146.53,422.86 147.53,423.25 148.53,422.91 149.53,422.81 150.53,423.12 151.53,423.10 152.53,423.32 153.53,423.18 154.53,422.85 155.53,422.99 156.53,423.00 157.53,423.06 158.53,423.06 159.53,422.79 160.53,422.43 161.53,422.88 162.53,422.50 163.53,423.16 164.53,423.17 165.53,422.69 166.53,423.43 167.53,423.51 168.53,423.30 169.53,423.80 170.53,423.89 171.53,423.00 172.53,423.70 173.53,423.55 174.53,423.57 175.53,423.75 176.53,423.28 177.53,423.35 178.53,423.30 179.53,423.35 180.53,423.58 181.53,423.20 182.53,423.35 183.53,423.86 184.53,423.69 185.53,423.86 186.53,423.20 187.53,423.56 188.54,423.66 189.54,423.86 190.54,423.70 191.54,424.18 192.54,423.91 193.54,423.96 194.54,423.98 195.54,424.21 196.54,423.88 197.54,424.39 198.54,424.21 199.54,424.14 200.54,424.13 201.54,424.29 202.54,424.46 203.54,424.46 204.54,424.31 205.54,424.48 206.54,424.28 207.54,424.64 208.54,424.27 209.54,423.68 210.54,424.72 211.54,424.38 212.54,424.01 213.54,424.32 214.54,424.14 215.54,425.06 216.54,424.60 217.54,424.00 218.54,424.65 219.54,424.39 220.54,425.10 221.54,424.23 222.54,423.90 223.54,424.61 224.54,424.51 225.54,424.51 226.54,424.01 227.54,424.80 228.54,425.19 229.54,424.14 230.54,425.09 231.54,424.58 232.54,425.48 233.54,424.93 234.54,424.76 235.54,425.17 236.54,425.02 237.54,424.70 238.54,425.11 239.54,424.77 240.55,424.40 241.55,425.57 242.55,424.88 243.55,424.82 244.55,425.12 245.55,424.57 246.55,424.65 247.55,424.92 248.55,424.93 249.55,425.13 250.55,425.46 251.55,424.99 252.55,425.30 253.55,425.35 254.55,424.85 255.55,425.26 256.55,424.92 257.55,425.54 258.55,425.37 259.55,425.25 260.55,424.86 261.55,425.31 262.55,425.05 263.55,425.51 264.55,425.27 265.55,425.08 266.55,425.61 267.55,425.56 268.55,425.18 269.55,425.72 270.55,425.30 271.55,425.31 272.55,425.45 273.55,425.20 274.55,425.31 275.55,425.40 276.55,425.92 277.55,425.93 278.55,425.41 279.55,425.99 280.55,425.50 281.55,425.64 282.55,425.81 283.55,425.64 284.55,426.29 285.55,425.65 286.55,425.23 287.55,426.00 288.55,425.50 289.55,425.54 290.55,424.75 291.55,425.95 292.56,425.91 293.56,425.91 294.56,425.98 295.56,426.20 296.56,425.69 297.56,425.99 298.56,425.49 299.56,425.62 300.56,426.05 301.56,425.85 302.56,425.34 303.56,425.86 304.56,425.70 305.56,425.51 306.56,425.89 307.56,425.65 308.56,425.30 309.56,425.45 310.56,426.32 311.56,425.34 312.56,425.86 313.56,425.99 314.56,426.00 315.56,425.45 316.56,425.72 317.56,425.87 318.56,426.07 319.56,425.64 320.56,425.49 321.56,426.15 322.56,426.18 323.56,425.97 324.56,425.68 325.56,425.99 326.56,425.90 327.56,426.13 328.56,425.51 329.56,425.92 330.56,425.84 331.56,425.56" fill="none" stroke="#000000" stroke-width="1.8" stroke-linejoin="round"/>
<polyline points="23.50,607.42 24.50,607.40 25.50,607.30 26.50,607.64 27.51,607.06 28.51,607.61 29.51,607.84 30.51,607.87 31.51,608.22 32.51,607.49 33.52,607.45 34.52,608.12 35.52,608.25 36.52,608.87 37.52,608.37 38.52,607.85 39.53,608.40 40.53,607.71 41.53,607.21 41.96,608.40 42.36,607.14 42.38,607.27 42.53,606.91 42.77,606.54 42.78,605.94 43.17,603.47 43.18,602.51 43.53,597.48 43.57,597.84 43.59,597.54 43.97,589.45 43.99,588.99 44.37,583.36 44.39,582.97 44.53,583.54 44.77,585.25 44.79,585.45 45.17,592.56 45.19,593.17 45.54,599.39 45.57,600.10 45.59,599.70 45.98,604.63 45.99,605.36 46.38,606.45 46.40,606.66 46.54,607.42 46.78,607.90 46.80,607.83 47.20,607.45 47.54,608.41 48.54,608.15 49.54,608.45 50.54,609.05 51.55,608.84 52.55,609.30 53.55,610.18 54.55,609.41 55.55,609.44 56.55,608.92 57.56,609.05 58.56,608.94 59.56,609.16 60.56,608.99 61.56,609.17 62.56,609.36 63.56,609.10 64.57,608.98 65.57,609.02 66.57,609.67 67.57,609.54 68.57,609.89 69.57,609.91 70.58,609.44 71.58,609.80 72.58,609.07 73.58,610.39 74.58,610.02 75.58,609.53 76.59,609.21 77.59,609.76 78.59,608.98 79.59,609.37 80.59,609.91 81.59,609.68 82.60,609.49 83.60,610.00 84.60,609.31 85.60,609.77 86.60,609.50 87.60,609.38 88.61,609.84 89.61,609.32 90.61,610.33 91.61,609.46 92.61,610.35 93.61,609.25 94.61,609.83 95.62,609.18 96.62,609.10 97.62,609.59 98.62,609.73 99.62,608.99 100.62,609.78 101.63,609.00 102.63,609.21 103.63,609.15 104.63,609.03 105.63,607.93 106.63,608.76 107.64,607.87 107.79,607.44 108.64,606.54 109.06,605.83 109.64,605.11 110.34,604.29 110.64,603.12 111.62,598.43 111.64,598.49 112.64,589.39 112.89,584.53 113.65,561.08 114.17,518.91 114.55,492.60 114.65,492.60 114.70,492.60 114.85,492.60 115.00,492.60 115.15,492.60 115.30,492.60 115.45,492.60 115.60,492.60 115.65,492.60 115.75,492.60 115.90,492.60 116.05,492.60 116.20,492.60 116.35,492.60 116.65,507.63 116.73,518.39 117.65,576.09 118.00,584.33 118.65,593.84 119.28,598.97 119.66,600.77 120.56,604.41 120.66,604.42 121.66,606.01 121.83,606.62 122.66,608.12 123.11,607.57 123.66,608.56 124.66,609.10 125.67,609.48 126.67,608.93 127.67,610.12 128.67,609.61 129.67,609.61 130.67,609.73 131.67,610.12 132.68,610.00 133.68,609.99 134.68,610.57 135.68,609.92 136.68,609.86 137.68,610.55 138.69,610.57 139.69,610.75 140.69,610.03 141.69,610.82 142.69,610.65 143.69,611.13 144.70,610.11 145.70,610.65 146.70,610.51 147.70,610.07 148.70,610.41 149.70,611.08 150.71,610.54 151.71,610.48 152.71,611.05 153.71,611.12 154.71,611.13 155.71,610.53 156.72,610.80 157.72,611.19 158.72,610.60 159.72,610.56 160.72,611.10 161.72,611.33 162.72,610.33 163.73,609.75 164.73,610.01 165.73,609.92 166.46,609.91 166.73,610.00 167.08,609.40 167.21,609.04 167.70,608.39 167.73,607.91 167.84,607.92 168.32,605.52 168.46,605.81 168.73,602.94 168.94,600.39 169.08,598.85 169.56,593.21 169.70,591.17 169.74,591.05 170.18,587.48 170.32,587.68 170.74,588.42 170.80,588.74 170.94,589.69 171.42,595.07 171.56,597.08 171.74,599.11 172.04,602.63 172.18,603.20 172.66,606.96 172.74,607.06 172.80,607.22 173.28,608.06 173.42,608.60 173.74,609.82 173.90,610.23 174.04,609.95 174.66,610.56 174.74,610.20 175.75,610.55 176.75,610.64 177.75,611.34 178.75,611.21 179.75,611.08 180.75,611.10 181.76,611.45 182.76,611.41 183.76,611.04 184.76,611.95 185.76,611.47 186.76,611.41 187.77,611.94 188.77,611.80 189.77,611.43 190.77,611.66 191.77,611.12 192.77,611.28 193.77,610.73 194.78,611.96 195.78,610.88 196.78,611.80 197.78,611.28 198.78,611.23 199.78,611.52 200.79,611.68 201.79,611.81 202.79,612.22 203.79,611.72 204.79,611.90 205.79,611.37 206.80,611.81 207.80,611.59 208.80,611.34 209.80,611.41 210.80,611.34 211.80,611.31 212.81,611.20 213.81,610.58 214.81,609.97 215.50,609.86 215.81,608.56 216.08,608.38 216.39,608.19 216.66,605.46 216.81,605.25 216.98,604.45 217.25,600.83 217.56,597.77 217.81,591.20 217.83,592.22 218.15,585.05 218.42,578.10 218.73,570.70 218.82,569.40 219.00,566.65 219.31,566.54 219.58,568.20 219.82,572.14 219.90,574.11 220.17,579.17 220.48,586.60 220.75,592.50 220.82,593.27 221.06,598.35 221.34,601.70 221.65,604.09 221.82,605.84 221.92,606.18 222.23,607.65 222.50,608.73 222.82,609.12 222.82,609.72 223.40,609.88 223.82,610.83 224.83,611.00 225.83,611.63 226.83,611.35 227.83,611.51 228.83,611.39 229.83,612.09 230.83,612.28 231.84,612.75 232.84,612.52 233.84,612.20 234.84,612.08 235.84,612.32 236.84,612.21 237.85,612.76 238.85,612.60 239.85,612.01 240.85,612.08 241.85,612.82 242.85,612.47 243.86,612.29 244.86,612.80 245.86,612.26 246.86,612.31 247.86,612.25 248.86,611.73 249.87,612.72 250.87,611.99 251.87,612.20 252.87,612.12 253.87,612.61 254.87,612.29 255.34,612.30 255.88,611.66 256.44,612.15 256.88,611.59 257.53,612.02 257.88,611.90 258.63,611.28 258.88,611.78 259.72,610.27 259.88,610.08 260.81,608.55 260.88,608.34 261.89,607.95 261.91,608.00 262.89,607.90 263.00,608.89 263.89,610.01 264.10,610.46 264.89,611.23 265.19,610.91 265.89,611.40 266.29,612.63 266.89,612.26 267.38,611.78 267.89,612.47 268.48,612.28 268.90,611.80 269.90,611.70 270.90,611.98 271.90,612.66 272.90,612.57 273.90,612.52 274.91,612.72 275.91,612.84 276.91,611.91 277.91,612.54 278.91,612.36 279.91,612.22 280.92,612.46 281.92,612.61 282.92,612.55 283.92,612.13 284.92,612.46 285.92,613.31 286.93,612.22 287.93,611.96 288.93,612.61 289.93,612.66 290.93,612.54 291.93,611.88 292.94,612.48 293.94,611.66 294.94,611.24 295.70,611.09 295.94,611.12 296.65,610.83 296.85,610.56 296.94,610.21 297.59,609.31 297.80,608.46 297.94,608.28 298.54,604.84 298.75,603.59 298.94,603.06 299.49,597.71 299.69,596.08 299.95,593.45 300.44,587.75 300.64,585.56 300.95,583.28 301.39,579.13 301.59,579.82 301.95,580.65 302.34,581.83 302.54,583.38 302.95,587.58 303.29,591.57 303.49,592.71 303.95,597.89 304.23,600.32 304.44,602.20 304.95,605.40 305.18,606.72 305.39,607.21 305.96,609.15 306.13,609.30 306.33,609.69 306.96,610.72 307.08,610.84 307.28,610.66 307.96,612.06 308.23,611.60 308.96,611.44 309.96,612.58 310.96,612.12 311.97,612.70 312.97,612.63 313.97,612.81 314.97,612.85 315.97,612.64 316.97,612.91 317.98,613.65 318.98,612.19 319.98,613.03 320.98,613.19 321.98,612.69 322.98,612.60 323.99,613.86 324.99,612.99 325.99,613.87 326.99,613.34 327.99,613.20 328.99,613.35 330.00,613.42" fill="none" stroke="#e01414" stroke-width="1.0" stroke-linejoin="round"/>
<path d="M23.50,607.42 L24.50,607.40 L25.50,607.30 L26.50,607.64 L27.51,607.06 L28.51,607.61 L29.51,607.84 L30.51,607.87 L31.51,608.22 L32.51,607.49 L33.52,607.45 L34.52,608.12 L35.52,608.25 L36.52,608.87 L37.52,608.37 L38.52,607.85 L39.53,608.40 L40.53,607.71 L41.53,607.21 L41.96,608.40 M42.36,607.14 L42.38,607.27 L42.53,606.91 L42.77,606.54 L42.78,605.94 M43.17,603.47 L43.18,602.51 M43.53,597.48 L43.57,597.84 L43.59,597.54 M43.97,589.45 L43.99,588.99 M44.37,583.36 L44.39,582.97 L44.53,583.54 M44.77,585.25 L44.79,585.45 M45.17,592.56 L45.19,593.17 M45.54,599.39 L45.57,600.10 L45.59,599.70 M45.98,604.63 L45.99,605.36 L46.38,606.45 L46.40,606.66 L46.54,607.42 L46.78,607.90 L46.80,607.83 L47.20,607.45 L47.54,608.41 L48.54,608.15 L49.54,608.45 L50.54,609.05 L51.55,608.84 L52.55,609.30 L53.55,610.18 L54.55,609.41 L55.55,609.44 L56.55,608.92 L57.56,609.05 L58.56,608.94 L59.56,609.16 L60.56,608.99 L61.56,609.17 L62.56,609.36 L63.56,609.10 L64.57,608.98 L65.57,609.02 L66.57,609.67 L67.57,609.54 L68.57,609.89 L69.57,609.91 L70.58,609.44 L71.58,609.80 L72.58,609.07 L73.58,610.39 L74.58,610.02 L75.58,609.53 L76.59,609.21 L77.59,609.76 L78.59,608.98 L79.59,609.37 L80.59,609.91 L81.59,609.68 L82.60,609.49 L83.60,610.00 L84.60,609.31 L85.60,609.77 L86.60,609.50 L87.60,609.38 L88.61,609.84 L89.61,609.32 L90.61,610.33 L91.61,609.46 L92.61,610.35 L93.61,609.25 L94.61,609.83 L95.62,609.18 L96.62,609.10 L97.62,609.59 L98.62,609.73 L99.62,608.99 L100.62,609.78 L101.63,609.00 L102.63,609.21 L103.63,609.15 L104.63,609.03 L105.63,607.93 L106.63,608.76 L107.64,607.87 L107.79,607.44 L108.64,606.54 L109.06,605.83 L109.64,605.11 L110.34,604.29 L110.64,603.12 M111.62,598.43 L111.64,598.49 M114.55,492.60 L114.65,492.60 L114.70,492.60 L114.85,492.60 L115.00,492.60 L115.15,492.60 L115.30,492.60 L115.45,492.60 L115.60,492.60 L115.65,492.60 L115.75,492.60 L115.90,492.60 L116.05,492.60 L116.20,492.60 L116.35,492.60 M120.56,604.41 L120.66,604.42 M121.66,606.01 L121.83,606.62 M122.66,608.12 L123.11,607.57 L123.66,608.56 L124.66,609.10 L125.67,609.48 L126.67,608.93 L127.67,610.12 L128.67,609.61 L129.67,609.61 L130.67,609.73 L131.67,610.12 L132.68,610.00 L133.68,609.99 L134.68,610.57 L135.68,609.92 L136.68,609.86 L137.68,610.55 L138.69,610.57 L139.69,610.75 L140.69,610.03 L141.69,610.82 L142.69,610.65 L143.69,611.13 L144.70,610.11 L145.70,610.65 L146.70,610.51 L147.70,610.07 L148.70,610.41 L149.70,611.08 L150.71,610.54 L151.71,610.48 L152.71,611.05 L153.71,611.12 L154.71,611.13 L155.71,610.53 L156.72,610.80 L157.72,611.19 L158.72,610.60 L159.72,610.56 L160.72,611.10 L161.72,611.33 L162.72,610.33 L163.73,609.75 L164.73,610.01 L165.73,609.92 L166.46,609.91 L166.73,610.00 L167.08,609.40 L167.21,609.04 L167.70,608.39 L167.73,607.91 L167.84,607.92 M168.32,605.52 L168.46,605.81 M169.70,591.17 L169.74,591.05 M170.18,587.48 L170.32,587.68 L170.74,588.42 L170.80,588.74 L170.94,589.69 M172.04,602.63 L172.18,603.20 M172.66,606.96 L172.74,607.06 L172.80,607.22 L173.28,608.06 L173.42,608.60 M173.74,609.82 L173.90,610.23 L174.04,609.95 L174.66,610.56 L174.74,610.20 L175.75,610.55 L176.75,610.64 L177.75,611.34 L178.75,611.21 L179.75,611.08 L180.75,611.10 L181.76,611.45 L182.76,611.41 L183.76,611.04 L184.76,611.95 L185.76,611.47 L186.76,611.41 L187.77,611.94 L188.77,611.80 L189.77,611.43 L190.77,611.66 L191.77,611.12 L192.77,611.28 L193.77,610.73 L194.78,611.96 L195.78,610.88 L196.78,611.80 L197.78,611.28 L198.78,611.23 L199.78,611.52 L200.79,611.68 L201.79,611.81 L202.79,612.22 L203.79,611.72 L204.79,611.90 L205.79,611.37 L206.80,611.81 L207.80,611.59 L208.80,611.34 L209.80,611.41 L210.80,611.34 L211.80,611.31 L212.81,611.20 L213.81,610.58 L214.81,609.97 L215.50,609.86 M215.81,608.56 L216.08,608.38 L216.39,608.19 M216.66,605.46 L216.81,605.25 L216.98,604.45 M217.81,591.20 L217.83,592.22 M219.00,566.65 L219.31,566.54 M220.75,592.50 L220.82,593.27 M221.82,605.84 L221.92,606.18 M222.23,607.65 L222.50,608.73 L222.82,609.12 L222.82,609.72 L223.40,609.88 L223.82,610.83 L224.83,611.00 L225.83,611.63 L226.83,611.35 L227.83,611.51 L228.83,611.39 L229.83,612.09 L230.83,612.28 L231.84,612.75 L232.84,612.52 L233.84,612.20 L234.84,612.08 L235.84,612.32 L236.84,612.21 L237.85,612.76 L238.85,612.60 L239.85,612.01 L240.85,612.08 L241.85,612.82 L242.85,612.47 L243.86,612.29 L244.86,612.80 L245.86,612.26 L246.86,612.31 L247.86,612.25 L248.86,611.73 L249.87,612.72 L250.87,611.99 L251.87,612.20 L252.87,612.12 L253.87,612.61 L254.87,612.29 L255.34,612.30 L255.88,611.66 L256.44,612.15 L256.88,611.59 L257.53,612.02 L257.88,611.90 L258.63,611.28 L258.88,611.78 M259.72,610.27 L259.88,610.08 M260.81,608.55 L260.88,608.34 L261.89,607.95 L261.91,608.00 L262.89,607.90 L263.00,608.89 L263.89,610.01 L264.10,610.46 L264.89,611.23 L265.19,610.91 L265.89,611.40 M266.29,612.63 L266.89,612.26 L267.38,611.78 L267.89,612.47 L268.48,612.28 L268.90,611.80 L269.90,611.70 L270.90,611.98 L271.90,612.66 L272.90,612.57 L273.90,612.52 L274.91,612.72 L275.91,612.84 L276.91,611.91 L277.91,612.54 L278.91,612.36 L279.91,612.22 L280.92,612.46 L281.92,612.61 L282.92,612.55 L283.92,612.13 L284.92,612.46 L285.92,613.31 L286.93,612.22 L287.93,611.96 L288.93,612.61 L289.93,612.66 L290.93,612.54 L291.93,611.88 L292.94,612.48 L293.94,611.66 L294.94,611.24 L295.70,611.09 L295.94,611.12 L296.65,610.83 L296.85,610.56 L296.94,610.21 L297.59,609.31 L297.80,608.46 L297.94,608.28 M298.75,603.59 L298.94,603.06 M301.39,579.13 L301.59,579.82 L301.95,580.65 L302.34,581.83 M303.29,591.57 L303.49,592.71 M305.18,606.72 L305.39,607.21 M305.96,609.15 L306.13,609.30 L306.33,609.69 L306.96,610.72 L307.08,610.84 L307.28,610.66 M307.96,612.06 L308.23,611.60 L308.96,611.44 L309.96,612.58 L310.96,612.12 L311.97,612.70 L312.97,612.63 L313.97,612.81 L314.97,612.85 L315.97,612.64 L316.97,612.91 L317.98,613.65 L318.98,612.19 L319.98,613.03 L320.98,613.19 L321.98,612.69 L322.98,612.60 L323.99,613.86 L324.99,612.99 L325.99,613.87 L326.99,613.34 L327.99,613.20 L328.99,613.35 L330.00,613.42" fill="none" stroke="#e01414" stroke-width="1.7" stroke-linejoin="round" stroke-linecap="round"/>
<polyline points="23.50,663.94 24.50,663.75 25.50,663.70 26.50,663.75 27.51,664.14 28.51,664.03 29.51,663.53 30.51,663.70 31.51,664.04 32.51,663.81 33.52,663.94 34.52,663.81 35.52,664.06 36.52,664.30 37.52,664.49 38.52,664.20 39.53,664.80 40.53,664.08 41.31,664.92 41.53,664.22 41.73,664.00 41.82,663.67 42.24,662.63 42.33,663.32 42.53,663.09 42.75,663.12 42.84,661.87 43.26,661.17 43.35,660.05 43.53,659.30 43.77,656.84 43.86,657.08 44.28,654.87 44.37,654.97 44.53,654.71 44.79,654.94 44.88,655.97 45.30,658.34 45.39,658.89 45.54,659.88 45.81,661.38 45.90,661.46 46.32,662.46 46.41,662.68 46.54,663.75 46.83,663.99 46.92,663.91 47.34,664.06 47.44,664.26 47.54,664.32 47.86,664.33 48.54,664.39 49.54,665.38 50.54,664.90 51.55,664.72 52.55,664.57 53.55,664.80 54.55,665.28 55.55,665.34 56.55,665.10 57.56,665.22 58.56,665.15 59.56,664.95 60.56,665.71 61.56,665.46 62.56,666.12 63.56,665.18 64.57,665.40 65.57,665.73 66.57,665.41 67.57,665.09 68.57,665.24 69.57,665.58 70.58,665.67 71.58,665.56 72.58,665.91 73.58,665.93 74.58,665.75 75.58,665.68 76.59,665.61 77.59,665.87 78.59,666.00 79.59,665.76 80.59,665.89 81.59,665.68 82.60,665.37 83.60,665.51 84.60,666.05 85.60,665.97 86.60,666.33 87.60,665.88 88.61,666.14 89.61,666.29 90.61,666.20 91.61,665.72 92.61,665.86 93.61,665.95 94.61,665.62 95.62,666.05 96.62,666.21 97.62,665.75 98.62,666.46 99.62,665.76 100.62,665.75 101.63,665.69 102.63,665.48 103.63,665.73 104.63,665.49 105.63,665.81 106.63,665.27 107.64,664.92 108.64,664.20 109.64,663.10 110.64,662.24 110.85,661.64 111.46,660.64 111.58,659.92 111.64,660.19 112.19,656.94 112.31,656.00 112.64,652.43 112.92,648.59 113.04,646.61 113.65,632.36 113.65,631.86 113.77,628.45 114.38,607.54 114.50,602.10 114.65,596.76 115.11,584.07 115.23,582.12 115.65,583.76 115.84,586.95 115.96,590.22 116.57,611.59 116.65,614.94 116.69,615.33 117.29,635.47 117.42,638.57 117.65,643.80 118.02,650.32 118.15,651.86 118.65,657.30 118.75,657.71 118.88,658.40 119.48,661.22 119.61,661.47 119.66,661.48 120.21,662.61 120.66,663.70 121.66,664.33 122.66,664.79 123.66,664.99 124.66,665.46 125.67,665.48 126.67,666.00 127.67,666.19 128.67,665.61 129.67,666.32 130.67,666.59 131.67,666.51 132.68,666.23 133.68,666.95 134.68,666.40 135.68,666.28 136.68,666.35 137.68,666.70 138.69,667.03 139.69,667.10 140.69,666.84 141.69,666.43 142.69,666.61 143.69,666.55 144.70,666.78 145.70,666.32 146.70,666.90 147.70,667.07 148.70,666.84 149.70,667.03 150.71,666.62 151.71,666.48 152.71,666.73 153.71,667.27 154.71,667.24 155.71,666.80 156.72,667.30 157.72,666.84 158.72,667.39 159.72,667.07 160.72,666.78 161.72,667.13 162.72,666.63 163.73,666.54 164.73,666.30 165.73,666.67 166.46,666.40 166.73,666.30 167.08,666.01 167.21,666.47 167.70,665.38 167.73,665.24 167.84,665.66 168.32,664.50 168.46,663.69 168.73,661.84 168.94,661.09 169.08,660.63 169.56,657.22 169.70,656.79 169.74,655.67 170.18,654.31 170.32,653.71 170.74,654.96 170.80,654.79 170.94,655.76 171.42,658.20 171.56,658.86 171.74,660.10 172.04,661.94 172.18,662.47 172.66,664.89 172.74,665.15 172.80,664.96 173.28,665.42 173.42,665.86 173.74,665.97 173.90,666.71 174.04,666.45 174.66,666.72 174.74,666.48 175.75,666.19 176.75,666.67 177.75,666.63 178.75,667.13 179.75,667.08 180.75,666.84 181.76,666.99 182.76,667.60 183.76,666.85 184.76,666.88 185.76,667.10 186.76,666.97 187.77,667.06 188.77,667.36 189.77,667.73 190.77,666.68 191.77,667.22 192.77,667.24 193.77,667.21 194.78,667.19 195.78,667.15 196.78,667.55 197.78,667.12 198.78,667.22 199.78,667.26 200.79,667.30 201.79,667.21 202.79,667.56 203.79,667.25 204.79,667.30 205.79,667.22 206.80,666.92 207.80,666.96 208.80,666.86 209.80,667.19 210.80,666.86 211.80,666.67 212.81,666.93 213.81,666.81 214.81,665.76 215.28,666.53 215.81,665.52 215.90,665.37 216.18,665.25 216.52,664.07 216.80,662.78 216.81,663.54 217.14,660.64 217.42,658.67 217.76,655.23 217.81,653.98 218.04,651.28 218.38,646.46 218.66,643.38 218.82,640.71 219.00,639.65 219.28,639.34 219.62,640.80 219.82,642.22 219.90,643.58 220.24,647.84 220.52,651.69 220.82,655.66 220.86,656.11 221.14,658.76 221.48,661.40 221.76,662.52 221.82,663.10 222.10,664.25 222.38,664.77 222.72,665.52 222.82,665.38 223.00,666.28 223.62,666.93 223.82,666.28 224.83,666.87 225.83,666.90 226.83,667.48 227.83,667.33 228.83,667.29 229.83,667.25 230.83,667.39 231.84,667.09 232.84,667.62 233.84,667.22 234.84,667.62 235.84,667.51 236.84,667.82 237.85,667.50 238.85,667.82 239.85,667.25 240.85,667.72 241.85,667.48 242.85,667.61 243.86,667.58 244.86,667.85 245.86,666.97 246.86,667.67 247.86,667.13 248.86,667.94 249.87,666.99 250.87,667.28 251.87,667.07 252.87,668.06 253.87,667.16 254.87,667.56 255.34,667.35 255.88,666.94 256.44,667.34 256.88,667.59 257.53,667.21 257.88,667.46 258.63,666.76 258.88,666.73 259.72,665.99 259.88,666.06 260.81,665.65 260.88,665.13 261.89,664.57 261.91,664.33 262.89,664.76 263.00,665.54 263.89,665.60 264.10,665.85 264.89,666.70 265.19,666.78 265.89,667.79 266.29,666.61 266.89,667.55 267.38,667.72 267.89,667.22 268.48,667.40 268.90,667.74 269.90,668.14 270.90,667.40 271.90,667.22 272.90,668.00 273.90,668.18 274.91,667.63 275.91,667.07 276.91,668.18 277.91,667.69 278.91,668.09 279.91,667.74 280.92,667.64 281.92,667.62 282.92,668.19 283.92,668.17 284.92,667.09 285.92,667.44 286.93,668.24 287.93,667.58 288.93,667.25 289.93,667.62 290.93,667.54 291.93,667.47 292.94,667.27 293.94,667.18 294.94,666.94 295.48,667.03 295.94,666.52 296.46,666.40 296.63,666.33 296.94,666.50 297.45,665.61 297.61,665.20 297.94,664.74 298.43,663.35 298.60,662.97 298.94,661.38 299.42,659.33 299.58,658.21 299.95,655.48 300.40,652.28 300.57,651.58 300.95,649.29 301.39,647.47 301.56,646.79 301.95,646.84 302.37,648.80 302.54,649.69 302.95,652.04 303.36,654.05 303.53,655.83 303.95,658.01 304.34,660.41 304.51,661.21 304.95,662.64 305.33,663.86 305.50,663.83 305.96,665.10 306.31,665.34 306.48,666.20 306.96,666.51 307.30,666.98 307.47,666.90 307.96,666.81 308.45,667.26 308.96,667.16 309.96,667.64 310.96,667.68 311.97,667.38 312.97,667.75 313.97,667.82 314.97,667.76 315.97,668.16 316.97,668.44 317.98,667.84 318.98,667.87 319.98,667.33 320.98,667.98 321.98,667.91 322.98,667.40 323.99,668.15 324.99,668.26 325.99,667.87 326.99,667.99 327.99,667.82 328.99,668.35 330.00,667.67" fill="none" stroke="#1414d8" stroke-width="1.35" stroke-linejoin="round"/>
<polyline points="1.61,699.23 2.61,699.98 3.61,699.27 4.61,699.36 5.61,699.04 5.69,698.63 5.99,698.90 6.28,698.78 6.57,697.63 6.61,697.93 6.86,697.18 7.15,695.61 7.45,693.89 7.61,694.36 7.74,694.60 8.03,696.98 8.32,697.93 8.61,698.51 8.62,697.87 8.90,697.91 9.20,698.33 9.62,698.26 10.62,697.84 11.62,698.05 12.62,698.06 13.62,697.73 14.62,697.08 15.62,696.48 16.63,696.89 17.63,696.80 18.63,696.41 19.63,696.11 20.63,695.79 21.63,696.06 22.63,695.58 23.63,695.44 24.63,694.87 25.64,694.80 26.64,694.85 26.78,694.28 27.15,693.97 27.51,693.92 27.64,694.19 27.88,693.24 28.24,692.25 28.61,689.91 28.64,689.69 28.97,688.52 29.34,689.69 29.64,691.84 29.70,691.73 30.07,693.25 30.43,693.97 30.64,693.94 30.80,693.99 31.16,694.26 31.64,694.57 32.64,694.62 33.65,694.75 34.65,694.74 35.65,694.53 36.65,694.84 37.65,694.73 38.65,695.56 39.65,694.63 40.65,695.46 41.65,696.55 42.66,695.77 43.66,695.68 44.66,696.25 45.66,696.89 46.66,696.57 47.66,697.02 48.66,697.01 49.66,697.01 50.67,698.21 51.67,696.40 52.67,697.06 53.67,697.67 54.67,698.19 55.67,698.39 56.67,698.70 57.67,698.66 58.67,698.29 59.68,699.16 60.68,699.04 61.68,699.22 62.68,698.97 63.68,699.45 64.68,699.56 65.68,699.96 66.68,699.62 67.69,700.30 68.69,700.47 69.69,700.18 70.69,700.50 71.69,700.56 72.69,701.31 73.69,700.25 74.69,701.14 75.69,700.81 76.70,701.36 77.70,701.93 78.70,701.53 79.70,701.92 80.70,701.68 81.70,702.76 82.70,702.51 83.70,702.68 84.71,701.92 85.71,702.09 86.71,702.95 87.71,702.59 88.71,702.65 89.71,702.93 90.71,702.46 91.71,703.24 92.72,703.06 93.72,703.30 94.72,702.98 95.72,703.47 96.72,703.12 97.72,703.78 98.72,703.92 99.72,703.92 100.72,703.87 101.73,703.99 102.73,702.90 103.73,704.21 104.73,703.90 105.73,704.11 106.73,704.05 107.73,703.74 108.73,704.11 109.74,704.59 110.74,704.93 111.74,704.28 112.74,704.25 113.74,705.13 114.74,704.38 115.74,705.47 116.74,704.82 117.74,704.55 118.75,705.26 119.75,705.56 120.75,704.52 121.75,705.63 122.75,705.04 123.75,705.71 124.75,705.11 125.75,704.75 126.76,705.53 127.76,705.73 128.76,706.19 129.76,706.12 130.76,705.81 131.76,705.54 132.76,705.50 133.76,705.63 134.76,705.50 135.77,705.74 136.77,705.00 137.77,706.01 138.77,705.99 139.77,706.96 140.77,706.38 141.77,706.00 142.77,706.42 143.78,705.85 144.78,706.12 145.78,705.73 146.78,706.93 147.78,706.69 148.78,706.12 149.78,706.56 150.78,706.96 151.78,706.84 152.79,706.85 153.79,706.46 154.79,706.58 155.79,706.88 156.79,707.21 157.79,706.64 158.79,706.58 159.79,707.41 160.80,706.73 161.80,707.47 162.80,707.22 163.80,707.48 164.80,707.82 165.80,707.50 166.80,707.57 167.80,707.02 168.80,707.13 169.81,707.64 170.81,708.00 171.81,707.99 172.81,708.35 173.81,707.69 174.81,707.69 175.81,708.02 176.81,707.71 177.82,707.72 178.82,707.42 179.82,708.17 180.82,707.49 181.82,708.08 182.82,707.44 183.82,708.36 184.82,707.65 185.82,708.35 186.83,707.53 187.83,707.97 188.83,708.57 189.83,707.91 190.83,708.25 191.83,708.09 192.83,707.48 193.83,708.43 194.84,708.51 195.84,708.00 196.84,708.62 197.84,708.18 198.84,708.14 199.84,708.52 200.84,708.31 201.84,709.39 202.84,708.07 203.85,708.91 204.85,709.03 205.85,708.02 206.85,708.14 207.85,708.98 208.85,708.65 209.85,708.98 210.85,709.28 211.86,708.78 212.86,708.58 213.86,708.02 214.86,709.08 215.86,708.72 216.86,709.18 217.86,709.19 218.86,708.65 219.87,709.77 220.87,709.57 221.87,709.52 222.87,708.83 223.87,709.13 224.87,709.11 225.87,709.18 226.87,708.96 227.87,709.53 228.88,709.48 229.88,709.55 230.88,709.27 231.88,709.92 232.88,709.56 233.88,708.56 234.88,709.32 235.88,709.55 236.89,709.93 237.89,709.51 238.89,709.55 239.89,709.43 240.89,709.92 241.89,709.56 242.89,709.52 243.89,709.50 244.89,709.98 245.90,709.62 246.90,709.25 247.90,710.07 248.90,709.63 249.90,710.03 250.90,710.06 251.90,710.37 252.90,710.34 253.91,709.80 254.91,709.97 255.91,709.60 256.91,710.66 257.91,710.25 258.91,710.61 259.91,710.03 260.91,709.45 261.91,710.73 262.92,710.25 263.92,710.29 264.92,710.28 265.92,710.51 266.92,710.50 267.92,709.78 268.92,710.74 269.92,710.20 270.93,710.24 271.93,711.04 272.93,710.78 273.93,710.36 274.93,709.85 275.93,710.58 276.93,710.74 277.93,710.54 278.93,710.16 279.94,710.34 280.94,710.20 281.94,710.74 282.94,710.97 283.94,711.07 284.94,710.47 285.94,710.83 286.94,710.97 287.95,710.62 288.95,710.76 289.95,711.58 290.95,710.93 291.95,711.19 292.95,710.75 293.95,710.94 294.95,710.35 295.95,710.96 296.96,711.41 297.96,711.74 298.96,711.45 299.96,711.29 300.96,711.09 301.96,710.89 302.96,711.06 303.96,711.35 304.97,710.89 305.97,711.51 306.97,710.86 307.97,710.60 308.97,710.89 309.97,710.69 310.97,710.81 311.97,711.71 312.97,711.26 313.98,711.43 314.98,711.78 315.98,711.84 316.98,711.24 317.98,711.91 318.98,711.60 319.98,711.49 320.98,711.66 321.99,711.03 322.99,711.27 323.99,711.53 324.99,711.80 325.99,711.47 326.99,711.58 327.99,711.97 328.99,712.14 330.00,711.93" fill="none" stroke="#000000" stroke-width="1.35" stroke-linejoin="round"/>
<line x1="2.30" y1="229.6" x2="341.29" y2="229.6" stroke="#000" stroke-width="1.1"/>
<line x1="2.85" y1="229.6" x2="2.85" y2="232.1" stroke="#000" stroke-width="1.1"/>
<line x1="340.74" y1="229.6" x2="340.74" y2="232.6" stroke="#000" stroke-width="1.1"/>
<line x1="38.36" y1="229.6" x2="38.36" y2="234.6" stroke="#000" stroke-width="1.1"/>
<line x1="74.42" y1="229.6" x2="74.42" y2="232.6" stroke="#000" stroke-width="1.1"/>
<line x1="110.49" y1="229.6" x2="110.49" y2="234.6" stroke="#000" stroke-width="1.1"/>
<line x1="146.55" y1="229.6" x2="146.55" y2="232.6" stroke="#000" stroke-width="1.1"/>
<line x1="182.61" y1="229.6" x2="182.61" y2="234.6" stroke="#000" stroke-width="1.1"/>
<line x1="218.68" y1="229.6" x2="218.68" y2="232.6" stroke="#000" stroke-width="1.1"/>
<line x1="254.74" y1="229.6" x2="254.74" y2="234.6" stroke="#000" stroke-width="1.1"/>
<line x1="290.80" y1="229.6" x2="290.80" y2="232.6" stroke="#000" stroke-width="1.1"/>
<line x1="326.86" y1="229.6" x2="326.86" y2="234.6" stroke="#000" stroke-width="1.1"/>
<text x="38.36" y="246.6" font-size="12.5" text-anchor="middle" class="tb">20</text>
<text x="110.49" y="246.6" font-size="12.5" text-anchor="middle" class="tb">30</text>
<text x="182.61" y="246.6" font-size="12.5" text-anchor="middle" class="tb">40</text>
<text x="254.74" y="246.6" font-size="12.5" text-anchor="middle" class="tb">50</text>
<text x="326.86" y="246.6" font-size="12.5" text-anchor="middle" class="tb">60</text>
<line x1="5.50" y1="442.9" x2="332.60" y2="442.9" stroke="#000" stroke-width="2.0"/>
<line x1="6.25" y1="442.9" x2="6.25" y2="446.4" stroke="#000" stroke-width="1.5"/>
<line x1="40.19" y1="442.9" x2="40.19" y2="448.4" stroke="#000" stroke-width="1.5"/>
<line x1="74.88" y1="442.9" x2="74.88" y2="446.4" stroke="#000" stroke-width="1.5"/>
<line x1="109.56" y1="442.9" x2="109.56" y2="448.4" stroke="#000" stroke-width="1.5"/>
<line x1="144.25" y1="442.9" x2="144.25" y2="446.4" stroke="#000" stroke-width="1.5"/>
<line x1="178.94" y1="442.9" x2="178.94" y2="448.4" stroke="#000" stroke-width="1.5"/>
<line x1="213.62" y1="442.9" x2="213.62" y2="446.4" stroke="#000" stroke-width="1.5"/>
<line x1="248.31" y1="442.9" x2="248.31" y2="448.4" stroke="#000" stroke-width="1.5"/>
<line x1="283.00" y1="442.9" x2="283.00" y2="446.4" stroke="#000" stroke-width="1.5"/>
<line x1="317.69" y1="442.9" x2="317.69" y2="448.4" stroke="#000" stroke-width="1.5"/>
<text x="40.19" y="461.9" font-size="14" text-anchor="middle" class="tb">20</text>
<text x="109.56" y="461.9" font-size="14" text-anchor="middle" class="tb">30</text>
<text x="178.94" y="461.9" font-size="14" text-anchor="middle" class="tb">40</text>
<text x="248.31" y="461.9" font-size="14" text-anchor="middle" class="tb">50</text>
<text x="317.69" y="461.9" font-size="14" text-anchor="middle" class="tb">60</text>
<line x1="1.61" y1="724.5" x2="330.00" y2="724.5" stroke="#000" stroke-width="1.1"/>
<line x1="2.16" y1="724.5" x2="2.16" y2="726.8" stroke="#000" stroke-width="1.1"/>
<line x1="329.44" y1="724.5" x2="329.44" y2="727.3" stroke="#000" stroke-width="1.1"/>
<line x1="23.50" y1="724.5" x2="23.50" y2="728.5" stroke="#000" stroke-width="1.1"/>
<line x1="59.99" y1="724.5" x2="59.99" y2="727.0" stroke="#000" stroke-width="1.1"/>
<line x1="96.48" y1="724.5" x2="96.48" y2="728.5" stroke="#000" stroke-width="1.1"/>
<line x1="132.96" y1="724.5" x2="132.96" y2="727.0" stroke="#000" stroke-width="1.1"/>
<line x1="169.45" y1="724.5" x2="169.45" y2="728.5" stroke="#000" stroke-width="1.1"/>
<line x1="205.94" y1="724.5" x2="205.94" y2="727.0" stroke="#000" stroke-width="1.1"/>
<line x1="242.43" y1="724.5" x2="242.43" y2="728.5" stroke="#000" stroke-width="1.1"/>
<line x1="278.91" y1="724.5" x2="278.91" y2="727.0" stroke="#000" stroke-width="1.1"/>
<line x1="315.40" y1="724.5" x2="315.40" y2="728.5" stroke="#000" stroke-width="1.1"/>
<text x="23.50" y="740.9" font-size="12.5" text-anchor="middle" class="tb">20</text>
<text x="96.48" y="740.9" font-size="12.5" text-anchor="middle" class="tb">30</text>
<text x="169.45" y="740.9" font-size="12.5" text-anchor="middle" class="tb">40</text>
<text x="242.43" y="740.9" font-size="12.5" text-anchor="middle" class="tb">50</text>
<text x="315.40" y="740.9" font-size="12.5" text-anchor="middle" class="tb">60</text>
<text x="2.6" y="16.5" font-size="20.8" class="ps">a</text>
<text x="2.0" y="286.1" font-size="20" class="ps">b</text>
<text x="2.2" y="501.3" font-size="20" class="ps">c</text>
<text x="343.5" y="162" font-size="13" class="tb">3</text>
<text x="343.5" y="194.2" font-size="13" class="tb">2</text>
<text x="343.6" y="221" font-size="13" class="tb">1</text>
<text x="334.2" y="364.7" font-size="14.3" class="tb">3</text>
<text x="334.2" y="403.0" font-size="14.3" class="tb">2</text>
<text x="334.6" y="433.5" font-size="14.3" class="tb">1</text>
<text x="333.5" y="617.8" font-size="13" class="tb">3</text>
<text x="333.5" y="671.0" font-size="13" class="tb">2</text>
<text x="333.0" y="717.3" font-size="13" class="tb">1</text>
<text x="318.8" y="258.6" font-size="12.3" class="tb">2θ <tspan dx="0.9" class="tr">(°)</tspan></text>
<text x="317.2" y="477.5" font-size="14.3" class="tb">2<tspan class="tr" dx="0.8" font-size="12.8">Θ</tspan> <tspan dx="-0.2" class="tr">(°)</tspan></text>
<text x="329.0" y="747.2" font-size="11.2" class="tb">2θ (°)</text>
</svg>
</body></html>
